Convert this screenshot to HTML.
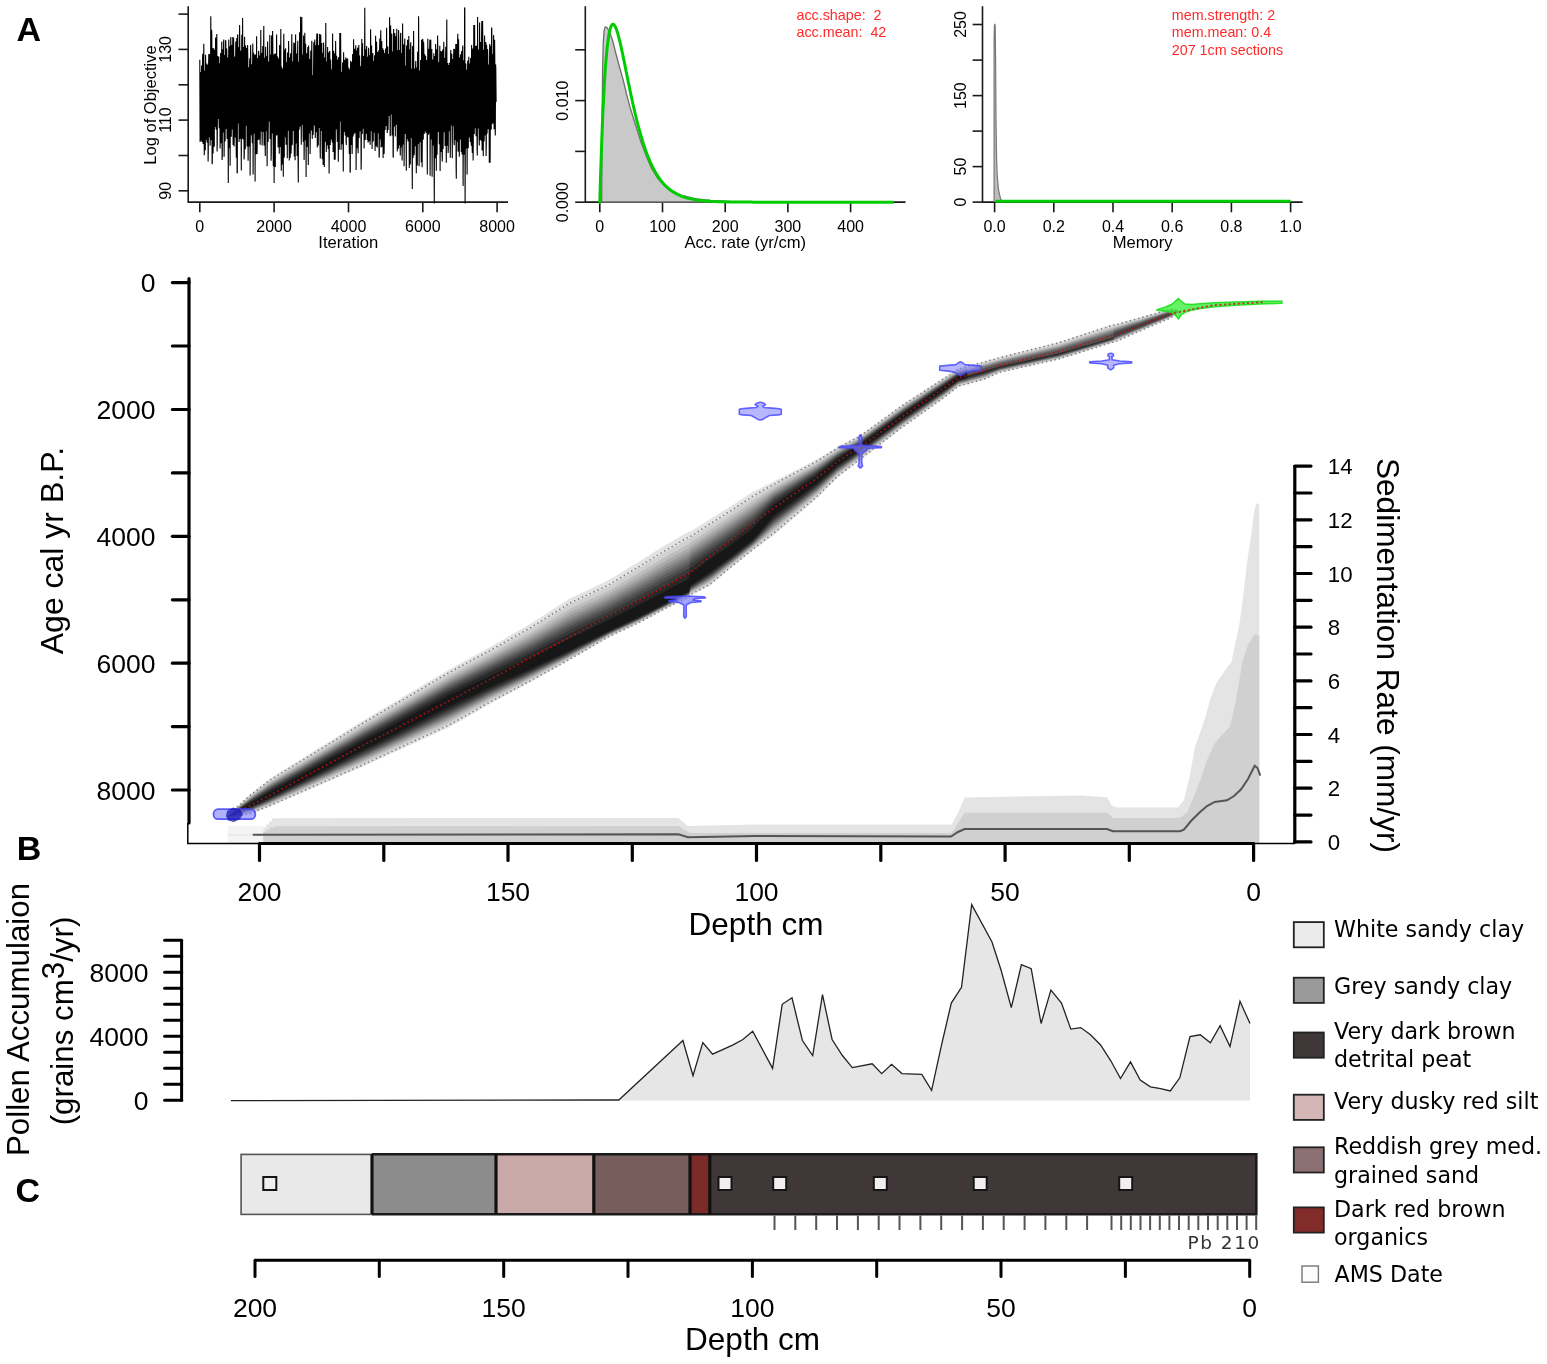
<!DOCTYPE html>
<html><head><meta charset="utf-8"><title>Bacon age-depth model</title>
<style>html,body{margin:0;padding:0;background:#fff;}svg{display:block;}</style></head>
<body><svg width="1547" height="1364" viewBox="0 0 1547 1364">
<rect width="1547" height="1364" fill="#fff"/>
<text x="16.6" y="40.9" font-size="34" font-weight="bold" font-family="'Liberation Sans', Arial, Helvetica, sans-serif">A</text>
<text x="16.8" y="860" font-size="34" font-weight="bold" font-family="'Liberation Sans', Arial, Helvetica, sans-serif">B</text>
<text x="15.4" y="1201.5" font-size="34" font-weight="bold" font-family="'Liberation Sans', Arial, Helvetica, sans-serif">C</text>
<path d="M188.2 6.2 V202.1 H508" fill="none" stroke="#1a1a1a" stroke-width="1.6"/>
<line x1="178.5" y1="190.8" x2="188.2" y2="190.8" stroke="#1a1a1a" stroke-width="1.6"/>
<line x1="178.5" y1="155.5" x2="188.2" y2="155.5" stroke="#1a1a1a" stroke-width="1.6"/>
<line x1="178.5" y1="120.1" x2="188.2" y2="120.1" stroke="#1a1a1a" stroke-width="1.6"/>
<line x1="178.5" y1="84.8" x2="188.2" y2="84.8" stroke="#1a1a1a" stroke-width="1.6"/>
<line x1="178.5" y1="49.4" x2="188.2" y2="49.4" stroke="#1a1a1a" stroke-width="1.6"/>
<line x1="178.5" y1="14.1" x2="188.2" y2="14.1" stroke="#1a1a1a" stroke-width="1.6"/>
<text x="171.5" y="190.8" font-size="16" text-anchor="middle" transform="rotate(-90 171.5 190.8)" font-family="'Liberation Sans', Arial, Helvetica, sans-serif">90</text>
<text x="171.5" y="120.1" font-size="16" text-anchor="middle" transform="rotate(-90 171.5 120.1)" font-family="'Liberation Sans', Arial, Helvetica, sans-serif">110</text>
<text x="171.5" y="49.4" font-size="16" text-anchor="middle" transform="rotate(-90 171.5 49.4)" font-family="'Liberation Sans', Arial, Helvetica, sans-serif">130</text>
<line x1="199.8" y1="202.1" x2="199.8" y2="212.3" stroke="#1a1a1a" stroke-width="1.6"/>
<text x="199.8" y="232.3" font-size="16" text-anchor="middle" font-family="'Liberation Sans', Arial, Helvetica, sans-serif">0</text>
<line x1="274.1" y1="202.1" x2="274.1" y2="212.3" stroke="#1a1a1a" stroke-width="1.6"/>
<text x="274.1" y="232.3" font-size="16" text-anchor="middle" font-family="'Liberation Sans', Arial, Helvetica, sans-serif">2000</text>
<line x1="348.5" y1="202.1" x2="348.5" y2="212.3" stroke="#1a1a1a" stroke-width="1.6"/>
<text x="348.5" y="232.3" font-size="16" text-anchor="middle" font-family="'Liberation Sans', Arial, Helvetica, sans-serif">4000</text>
<line x1="422.8" y1="202.1" x2="422.8" y2="212.3" stroke="#1a1a1a" stroke-width="1.6"/>
<text x="422.8" y="232.3" font-size="16" text-anchor="middle" font-family="'Liberation Sans', Arial, Helvetica, sans-serif">6000</text>
<line x1="497.1" y1="202.1" x2="497.1" y2="212.3" stroke="#1a1a1a" stroke-width="1.6"/>
<text x="497.1" y="232.3" font-size="16" text-anchor="middle" font-family="'Liberation Sans', Arial, Helvetica, sans-serif">8000</text>
<text x="348.3" y="247.5" font-size="16.6" text-anchor="middle" font-family="'Liberation Sans', Arial, Helvetica, sans-serif">Iteration</text>
<text x="156" y="105" font-size="16.5" text-anchor="middle" transform="rotate(-90 156 105)" font-family="'Liberation Sans', Arial, Helvetica, sans-serif">Log of Objective</text>
<path d="M199.8 59.8 200.1 142.1 L200.3 133.7 200.6 75.6 L200.8 72 201.1 133.4 L201.3 140.7 201.6 65.4 L201.8 74.5 202.1 142.1 L202.3 137.7 202.6 58 L202.8 53.9 203.1 143.9 L203.3 131.3 203.6 63.3 L203.8 43.7 204.1 136.1 L204.3 155.3 204.6 74.8 L204.8 70.6 205.1 128.8 L205.3 150.3 205.6 54.7 L205.8 82.7 206.1 139.8 L206.3 135.9 206.6 81.7 L206.8 63.5 207.1 142.6 L207.3 140 207.6 80.3 L207.8 64.8 208.1 161.6 L208.3 149.6 208.6 63.9 L208.8 54.1 209.1 137.2 L209.3 129.1 209.6 54.1 L209.8 69.4 210.1 145.8 L210.3 135 210.6 58.4 L210.8 16.2 211.1 139.9 L211.3 122.1 211.6 29.8 L211.8 34.7 212.1 164.3 L212.3 162.6 212.6 61.5 L212.8 48.2 213.1 153.4 L213.3 126 213.6 65.9 L213.8 48.2 214.1 117.7 L214.3 146.7 214.6 50 L214.8 51.3 215.1 103.9 L215.3 127.1 215.6 37.4 L215.8 55.7 216.1 129.2 L216.3 129.2 216.6 48.3 L216.8 34 217.1 151.6 L217.3 140.6 217.6 56.1 L217.8 60.3 218.1 118.9 L218.3 113.1 218.6 61.1 L218.8 56.4 219.1 123.3 L219.3 128.3 219.6 63.2 L219.8 64.4 220.1 148.5 L220.3 131 220.6 53.9 L220.8 53 221.1 124.2 L221.3 143.2 221.6 56.6 L221.8 41.6 222.1 160 L222.3 156.1 222.6 49.2 L222.8 56.2 223.1 132.4 L223.3 114.6 223.6 43.1 L223.8 39.5 224.1 156.7 L224.3 131.9 224.6 60.3 L224.8 54.9 225.1 141.5 L225.3 114.6 225.6 40.5 L225.8 40.5 226.1 120.3 L226.3 129.1 226.6 48.4 L226.8 51.9 227.1 139.1 L227.3 130.2 227.6 71 L227.8 57.6 228.1 140.8 L228.3 183 228.6 62.9 L228.8 39.6 229.1 144.8 L229.3 148.1 229.6 46.2 L229.8 67.1 230.1 165.8 L230.3 121.2 230.6 46.7 L230.8 37.1 231.1 89.7 L231.3 136.8 231.6 59.5 L231.8 45 232.1 107.3 L232.3 129.6 232.6 54.5 L232.8 36.9 233.1 144.9 L233.3 125 233.6 37.8 L233.8 69.5 234.1 146.4 L234.3 125.5 234.6 57.5 L234.8 56.7 235.1 120.8 L235.3 137.5 235.6 58.2 L235.8 41.5 236.1 137.5 L236.3 157.8 236.6 70.4 L236.8 38 237.1 173 L237.3 173 237.6 34.7 L237.8 34.7 238.1 121.2 L238.3 123.5 238.6 72.7 L238.8 46.9 239.1 142 L239.3 127.8 239.6 24.9 L239.8 44.9 240.1 138.9 L240.3 113.5 240.6 50.7 L240.8 68.9 241.1 117.6 L241.3 170.4 241.6 56.7 L241.8 34.7 242.1 123.9 L242.3 138.5 242.6 17.9 L242.8 54.4 243.1 139.5 L243.3 110.9 243.6 47 L243.8 71.8 244.1 159.4 L244.3 154.2 244.6 36.8 L244.8 62.5 245.1 130.4 L245.3 149.2 245.6 45.6 L245.8 62.4 246.1 124.8 L246.3 125.5 246.6 48 L246.8 72 247.1 146.4 L247.3 130.2 247.6 45 L247.8 56.5 248.1 160.8 L248.3 139 248.6 67.3 L248.8 74.7 249.1 146.3 L249.3 145.2 249.6 64.8 L249.8 58.3 250.1 175.6 L250.3 136.4 250.6 45.1 L250.8 57.1 251.1 134.9 L251.3 134.5 251.6 64.3 L251.8 70.6 252.1 131.9 L252.3 143.2 252.6 61.9 L252.8 43.6 253.1 174.6 L253.3 117.8 253.6 52.7 L253.8 63.8 254.1 123.4 L254.3 133.8 254.6 54.8 L254.8 56.2 255.1 181.5 L255.3 106 255.6 54.7 L255.8 54.7 256.1 113.4 L256.3 154.3 256.6 36.3 L256.8 86.2 257.1 154 L257.3 122.7 257.6 58 L257.8 76.4 258.1 140 L258.3 137 258.6 50.7 L258.8 52.9 259.1 139.4 L259.3 127.6 259.6 55.5 L259.8 57.7 260.1 144.7 L260.3 133.6 260.6 67.6 L260.8 30 261.1 129.3 L261.3 131.4 261.6 52.9 L261.8 61.6 262.1 145.4 L262.3 134.6 262.6 54.4 L262.8 45.9 263.1 131.9 L263.3 116.2 263.6 45.9 L263.8 25.9 264.1 145.4 L264.3 131.3 264.6 65.4 L264.8 57.8 265.1 143.6 L265.3 155.9 265.6 46.8 L265.8 56.7 266.1 131.3 L266.3 116.9 266.6 56.2 L266.8 61.7 267.1 166.3 L267.3 127.3 267.6 41.5 L267.8 60.7 268.1 141.9 L268.3 126.2 268.6 67.6 L268.8 61.4 269.1 117 L269.3 121.4 269.6 67.7 L269.8 35 270.1 139.1 L270.3 134.1 270.6 61.1 L270.8 54.4 271.1 160.8 L271.3 151.5 271.6 35.4 L271.8 47.4 272.1 116.7 L272.3 133.6 272.6 31 L272.8 44.6 273.1 133.8 L273.3 166.2 273.6 55 L273.8 55 274.1 183 L274.3 132.1 274.6 53.8 L274.8 66.5 275.1 110.6 L275.3 166.9 275.6 53.6 L275.8 64.7 276.1 120.8 L276.3 135.6 276.6 34.6 L276.8 68.4 277.1 134.7 L277.3 134.7 277.6 56.4 L277.8 62.2 278.1 147.4 L278.3 116.6 278.6 58.6 L278.8 63.4 279.1 108.9 L279.3 153.8 279.6 45.1 L279.8 45.6 280.1 117.3 L280.3 147 280.6 73 L280.8 29 281.1 144.1 L281.3 170.8 281.6 66.8 L281.8 68.6 282.1 127.1 L282.3 164.6 282.6 74.9 L282.8 68.7 283.1 138.9 L283.3 176.7 283.6 59.7 L283.8 33.8 284.1 115.6 L284.3 157.4 284.6 69.1 L284.8 49.8 285.1 137.2 L285.3 132.6 285.6 48.3 L285.8 59.2 286.1 144.8 L286.3 142 286.6 67.9 L286.8 62.2 287.1 133.6 L287.3 158.3 287.6 52.6 L287.8 60.3 288.1 130.7 L288.3 124.5 288.6 41.1 L288.8 66.2 289.1 136.1 L289.3 160.6 289.6 57.6 L289.8 66 290.1 158.1 L290.3 153.6 290.6 53.2 L290.8 57.8 291.1 153.6 L291.3 137.1 291.6 54.8 L291.8 34.2 292.1 145.3 L292.3 143.1 292.6 61.6 L292.8 62.5 293.1 129.4 L293.3 131 293.6 55.9 L293.8 42.6 294.1 122.7 L294.3 156.6 294.6 43.3 L294.8 67.7 295.1 160.3 L295.3 147 295.6 34.6 L295.8 69.6 296.1 142.4 L296.3 143.3 296.6 53.4 L296.8 72.6 297.1 156 L297.3 117.3 297.6 52 L297.8 40.8 298.1 163.8 L298.3 182.5 298.6 62.3 L298.8 62.3 299.1 129.8 L299.3 125.4 299.6 32.3 L299.8 39.9 300.1 112.5 L300.3 126.4 300.6 16.7 L300.8 68.2 301.1 124.9 L301.3 144.7 301.6 57.5 L301.8 16.9 302.1 124.2 L302.3 124.2 302.6 54.4 L302.8 65.2 303.1 135.4 L303.3 142.1 303.6 35.6 L303.8 68.2 304.1 160 L304.3 143.9 304.6 68.4 L304.8 32.8 305.1 128.5 L305.3 140.2 305.6 43.6 L305.8 59.4 306.1 176.9 L306.3 120.6 306.6 71 L306.8 53.3 307.1 121.3 L307.3 147 307.6 57.8 L307.8 46.9 308.1 136.6 L308.3 165 308.6 45.6 L308.8 54.7 309.1 133.4 L309.3 128.9 309.6 66.5 L309.8 58.9 310.1 154 L310.3 133 310.6 65.6 L310.8 50.5 311.1 130 L311.3 130 311.6 64.1 L311.8 40.7 312.1 123 L312.3 138.7 312.6 83.7 L312.8 75.1 313.1 134.9 L313.3 129.1 313.6 66.8 L313.8 42.3 314.1 125.4 L314.3 123.7 314.6 53.8 L314.8 39.4 315.1 117.2 L315.3 138.1 315.6 45.7 L315.8 45.7 316.1 132.3 L316.3 125.9 316.6 44.6 L316.8 33.6 317.1 112.8 L317.3 147.5 317.6 33.6 L317.8 72.7 318.1 119.3 L318.3 145.4 318.6 61.2 L318.8 44.9 319.1 122.9 L319.3 128 319.6 34 L319.8 63.8 320.1 148.7 L320.3 158.4 320.6 34.6 L320.8 36.8 321.1 107.9 L321.3 130.9 321.6 44.2 L321.8 42.9 322.1 141.2 L322.3 159.2 322.6 52.8 L322.8 57.1 323.1 165 L323.3 135.4 323.6 42.5 L323.8 52.3 324.1 122.2 L324.3 167.1 324.6 57.6 L324.8 71.9 325.1 141.8 L325.3 138 325.6 64.9 L325.8 22.9 326.1 115.6 L326.3 152 326.6 61.5 L326.8 62.5 327.1 145.4 L327.3 126.8 327.6 46.9 L327.8 84.5 328.1 134 L328.3 148.9 328.6 52.5 L328.8 68.5 329.1 173.4 L329.3 146.5 329.6 51.2 L329.8 51.2 330.1 128.2 L330.3 144.9 330.6 59.5 L330.8 67.1 331.1 139.6 L331.3 131.6 331.6 69.6 L331.8 72.2 332.1 139.7 L332.3 142.4 332.6 33.4 L332.8 63.4 333.1 152.1 L333.3 123.7 333.6 50.8 L333.8 52 334.1 111.7 L334.3 159.8 334.6 53.6 L334.8 70 335.1 159.8 L335.3 148.2 335.6 40.9 L335.8 55.3 336.1 128.7 L336.3 128.7 336.6 55.7 L336.8 60.7 337.1 128 L337.3 141.9 337.6 59.4 L337.8 68.7 338.1 126.6 L338.3 161.8 338.6 57.6 L338.8 57.6 339.1 124.9 L339.3 149.8 339.6 70.6 L339.8 32.9 340.1 121.5 L340.3 112.5 340.6 32.9 L340.8 58.5 341.1 149.8 L341.3 133.8 341.6 85.4 L341.8 71.7 342.1 142.9 L342.3 144.2 342.6 62.6 L342.8 70.4 343.1 146.7 L343.3 171.5 343.6 52.2 L343.8 67 344.1 131.5 L344.3 131.5 344.6 60.4 L344.8 60.2 345.1 121.6 L345.3 135.5 345.6 65.2 L345.8 57.6 346.1 140.9 L346.3 145 346.6 65.6 L346.8 58.6 347.1 126.7 L347.3 137.1 347.6 58.6 L347.8 66.8 348.1 131.9 L348.3 137.4 348.6 75.9 L348.8 67.8 349.1 132.3 L349.3 154 349.6 74.8 L349.8 69.6 350.1 172.5 L350.3 172.2 350.6 60.8 L350.8 78.5 351.1 136.9 L351.3 145.1 351.6 62.4 L351.8 62.4 352.1 153.9 L352.3 143.7 352.6 54.1 L352.8 78.8 353.1 136.5 L353.3 122.3 353.6 39.2 L353.8 75.8 354.1 134.2 L354.3 124.2 354.6 48.7 L354.8 70.5 355.1 115.4 L355.3 133.1 355.6 52.7 L355.8 45.2 356.1 169.9 L356.3 133 356.6 51.6 L356.8 50.5 357.1 148.3 L357.3 140.4 357.6 48 L357.8 48 358.1 153.3 L358.3 135 358.6 60.4 L358.8 44.9 359.1 138 L359.3 124.1 359.6 55.6 L359.8 66.2 360.1 131.3 L360.3 119.1 360.6 66.2 L360.8 78.7 361.1 169.8 L361.3 159.6 361.6 63.1 L361.8 39.1 362.1 131.4 L362.3 134 362.6 43.3 L362.8 72.2 363.1 128.6 L363.3 124.9 363.6 55.9 L363.8 59.8 364.1 148.4 L364.3 127.1 364.6 53.1 L364.8 7.7 365.1 116.4 L365.3 140.1 365.6 62 L365.8 49.2 366.1 133.7 L366.3 125.7 366.6 46 L366.8 55.9 367.1 130.2 L367.3 139.9 367.6 69.8 L367.8 56.7 368.1 142.8 L368.3 104.6 368.6 47.7 L368.8 52.6 369.1 141.2 L369.3 135.4 369.6 55.3 L369.8 71.6 370.1 144.8 L370.3 137.9 370.6 29.2 L370.8 47.4 371.1 125.7 L371.3 131.3 371.6 45.4 L371.8 72.4 372.1 149 L372.3 119.4 372.6 74.7 L372.8 53.1 373.1 112 L373.3 141.6 373.6 60.9 L373.8 62.9 374.1 132.8 L374.3 124.7 374.6 55.3 L374.8 58.1 375.1 151 L375.3 123.6 375.6 35.7 L375.8 51.7 376.1 146.2 L376.3 128.5 376.6 41.8 L376.8 62.4 377.1 146.6 L377.3 147.4 377.6 62.8 L377.8 52 378.1 125.3 L378.3 133.2 378.6 53.8 L378.8 50.4 379.1 157.2 L379.3 157.2 379.6 48.4 L379.8 38.6 380.1 139.4 L380.3 131.2 380.6 39.6 L380.8 30.2 381.1 147.6 L381.3 125 381.6 41.6 L381.8 41.6 382.1 146.7 L382.3 144.8 382.6 60.2 L382.8 48.2 383.1 158 L383.3 124.8 383.6 49.9 L383.8 61.9 384.1 153.9 L384.3 140.2 384.6 59.7 L384.8 52.9 385.1 129.9 L385.3 119.2 385.6 48.4 L385.8 58 386.1 126 L386.3 122.3 386.6 27.7 L386.8 60.3 387.1 129.4 L387.3 132.9 387.6 60.3 L387.8 46.5 388.1 129.9 L388.3 108.8 388.6 62.3 L388.8 54 389.1 111.9 L389.3 116 389.6 17.2 L389.8 51.2 390.1 134.3 L390.3 136.2 390.6 25.5 L390.8 37.3 391.1 107.7 L391.3 114.6 391.6 34 L391.8 34 392.1 135.6 L392.3 127.8 392.6 59.9 L392.8 51.6 393.1 157.2 L393.3 157.2 393.6 28.9 L393.8 43.6 394.1 121 L394.3 126.5 394.6 46.6 L394.8 32.9 395.1 100.8 L395.3 136.4 395.6 36.2 L395.8 56.1 396.1 124.7 L396.3 122.1 396.6 44.1 L396.8 28.8 397.1 102 L397.3 151.5 397.6 50.1 L397.8 65 398.1 142.4 L398.3 148.7 398.6 29.9 L398.8 41.3 399.1 133.2 L399.3 145.3 399.6 50.1 L399.8 54 400.1 145.3 L400.3 155.4 400.6 33.3 L400.8 33.3 401.1 147.5 L401.3 120.5 401.6 53.1 L401.8 59.1 402.1 160.4 L402.3 144.6 402.6 23.4 L402.8 66.3 403.1 144.4 L403.3 141.9 403.6 55.8 L403.8 44.5 404.1 166.3 L404.3 119.7 404.6 49.6 L404.8 38.4 405.1 133.9 L405.3 131.8 405.6 65.4 L405.8 66.7 406.1 124.5 L406.3 170.7 406.6 45.8 L406.8 45.8 407.1 124.8 L407.3 138.9 407.6 39.7 L407.8 59.3 408.1 141.4 L408.3 129 408.6 58.8 L408.8 35.9 409.1 124.5 L409.3 167.9 409.6 64.8 L409.8 49.3 410.1 124.3 L410.3 164.4 410.6 45.2 L410.8 42.3 411.1 138 L411.3 123.7 411.6 68.7 L411.8 77 412.1 154.2 L412.3 189 412.6 46 L412.8 48.4 413.1 157.9 L413.3 120.3 413.6 31 L413.8 68.6 414.1 155.3 L414.3 152.3 414.6 68.5 L414.8 76.5 415.1 146.3 L415.3 120.7 415.6 66 L415.8 61.1 416.1 138.3 L416.3 173.3 416.6 67.4 L416.8 68.8 417.1 121.2 L417.3 165.4 417.6 52.5 L417.8 51.6 418.1 144 L418.3 135.5 418.6 16.2 L418.8 64.6 419.1 166.2 L419.3 103.3 419.6 72 L419.8 70.6 420.1 142.3 L420.3 130.5 420.6 59.9 L420.8 61.7 421.1 145.8 L421.3 162.6 421.6 39.8 L421.8 51.4 422.1 167.3 L422.3 140.4 422.6 39.3 L422.8 39.3 423.1 137 L423.3 139.6 423.6 41.7 L423.8 48.2 424.1 124.8 L424.3 133.9 424.6 67 L424.8 54.3 425.1 122.7 L425.3 131.4 425.6 56.1 L425.8 62 426.1 133 L426.3 123.1 426.6 60.1 L426.8 70.6 427.1 124.7 L427.3 174.6 427.6 71.4 L427.8 38.8 428.1 132.4 L428.3 135 428.6 48.8 L428.8 61.1 429.1 133.5 L429.3 114.3 429.6 53.9 L429.8 39.7 430.1 175.7 L430.3 133.5 430.6 39.7 L430.8 40.4 431.1 120.6 L431.3 139.5 431.6 81.3 L431.8 48.9 432.1 176.8 L432.3 133.8 432.6 69.9 L432.8 59.6 433.1 145.5 L433.3 134.1 433.6 71.1 L433.8 53.2 434.1 170.8 L434.3 203.5 434.6 56 L434.8 65.3 435.1 152.4 L435.3 158.3 435.6 44.1 L435.8 55.2 436.1 115.7 L436.3 170.7 436.6 53.7 L436.8 49.4 437.1 154.7 L437.3 134.8 437.6 35.4 L437.8 47.8 438.1 128.7 L438.3 131.9 438.6 62.7 L438.8 62.7 439.1 124.8 L439.3 144.2 439.6 65.9 L439.8 45.8 440.1 170.9 L440.3 128.3 440.6 51.1 L440.8 56.6 441.1 138 L441.3 151.9 441.6 54.3 L441.8 51.2 442.1 155.8 L442.3 161.5 442.6 71.3 L442.8 49.5 443.1 149 L443.3 121.9 443.6 56.9 L443.8 41.7 444.1 106.4 L444.3 132.2 444.6 58 L444.8 62.1 445.1 146 L445.3 117.2 445.6 56.4 L445.8 46.7 446.1 136.5 L446.3 162.8 446.6 51.5 L446.8 19.4 447.1 145.7 L447.3 144.3 447.6 73.5 L447.8 63 448.1 153 L448.3 147.8 448.6 64.9 L448.8 66.9 449.1 125.7 L449.3 131.2 449.6 62.7 L449.8 69.3 450.1 143.4 L450.3 157.7 450.6 56 L450.8 49.9 451.1 125.6 L451.3 120.7 451.6 54.1 L451.8 54.1 452.1 135.9 L452.3 158.3 452.6 69 L452.8 59 453.1 126.3 L453.3 119 453.6 57.2 L453.8 48.7 454.1 142.2 L454.3 145.2 454.6 49 L454.8 56.7 455.1 140 L455.3 115.3 455.6 62.9 L455.8 44.1 456.1 165.7 L456.3 178.8 456.6 44.1 L456.8 60.8 457.1 141.8 L457.3 137.5 457.6 44.1 L457.8 33.7 458.1 151.6 L458.3 148.3 458.6 39.3 L458.8 63.1 459.1 114.5 L459.3 156.8 459.6 66.9 L459.8 57.4 460.1 116.2 L460.3 139.6 460.6 54.3 L460.8 60 461.1 129.4 L461.3 151.9 461.6 51 L461.8 66.7 462.1 154.4 L462.3 134.7 462.6 50.4 L462.8 45.6 463.1 186.1 L463.3 138.7 463.6 71.9 L463.8 60.2 464.1 154.8 L464.3 130.3 464.6 7.7 L464.8 7.7 465.1 203.5 L465.3 152.5 465.6 74.8 L465.8 63.5 466.1 148.6 L466.3 134.7 466.6 69.8 L466.8 72.4 467.1 174.5 L467.3 130.2 467.6 65.5 L467.8 60.6 468.1 124 L468.3 148.3 468.6 69.5 L468.8 56.7 469.1 137.5 L469.3 122 469.6 63.6 L469.8 72 470.1 131.6 L470.3 142 470.6 58 L470.8 67.3 471.1 138.6 L471.3 145.7 471.6 45 L471.8 60.5 472.1 144.8 L472.3 153.1 472.6 60.5 L472.8 48.4 473.1 160.4 L473.3 140.6 473.6 67.1 L473.8 24.9 474.1 132.4 L474.3 134.1 474.6 24.9 L474.8 64.5 475.1 124.6 L475.3 128.2 475.6 50.7 L475.8 46.1 476.1 136.3 L476.3 117.4 476.6 45.4 L476.8 53.8 477.1 149.1 L477.3 155.6 477.6 17 L477.8 63 478.1 128.5 L478.3 110.1 478.6 57.4 L478.8 49.6 479.1 136.7 L479.3 145.4 479.6 22.5 L479.8 55.5 480.1 139.4 L480.3 139.4 480.6 66.3 L480.8 42 481.1 120.5 L481.3 141 481.6 36.6 L481.8 21 482.1 150.4 L482.3 109.7 482.6 21 L482.8 41.1 483.1 140.1 L483.3 156.2 483.6 68.9 L483.8 49.7 484.1 141.5 L484.3 130.2 484.6 35.5 L484.8 56.6 485.1 134.9 L485.3 134.9 485.6 68.3 L485.8 42 486.1 156 L486.3 143.4 486.6 44.8 L486.8 57.9 487.1 133.7 L487.3 119.5 487.6 49 L487.8 58.5 488.1 129.2 L488.3 125.7 488.6 68.6 L488.8 64.5 489.1 118.3 L489.3 162.7 489.6 46.9 L489.8 43.9 490.1 162.7 L490.3 122.4 490.6 46.1 L490.8 50.1 491.1 129.7 L491.3 127.7 491.6 27.9 L491.8 27.9 492.1 124.2 L492.3 118.1 492.6 57.6 L492.8 53.9 493.1 123.3 L493.3 112.6 493.6 35 L493.8 52.1 494.1 129.3 L494.3 120.1 494.6 39.7 L494.8 59.1 495.1 128.3 L495.3 135.4 495.6 64.4 L495.8 68.2 496.1 101.9" fill="none" stroke="#000" stroke-width="1.1" stroke-linejoin="bevel"/>
<path d="M585.3 6.2 V202.1 H905.5" fill="none" stroke="#1a1a1a" stroke-width="1.6"/>
<line x1="575.2" y1="202.2" x2="585.3" y2="202.2" stroke="#1a1a1a" stroke-width="1.6"/>
<line x1="575.2" y1="151.4" x2="585.3" y2="151.4" stroke="#1a1a1a" stroke-width="1.6"/>
<line x1="575.2" y1="100.6" x2="585.3" y2="100.6" stroke="#1a1a1a" stroke-width="1.6"/>
<line x1="575.2" y1="49.8" x2="585.3" y2="49.8" stroke="#1a1a1a" stroke-width="1.6"/>
<text x="568.5" y="202.2" font-size="16" text-anchor="middle" transform="rotate(-90 568.5 202.2)" font-family="'Liberation Sans', Arial, Helvetica, sans-serif">0.000</text>
<text x="568.5" y="100.6" font-size="16" text-anchor="middle" transform="rotate(-90 568.5 100.6)" font-family="'Liberation Sans', Arial, Helvetica, sans-serif">0.010</text>
<line x1="599.8" y1="202.1" x2="599.8" y2="212.3" stroke="#1a1a1a" stroke-width="1.6"/>
<text x="599.8" y="232.3" font-size="16" text-anchor="middle" font-family="'Liberation Sans', Arial, Helvetica, sans-serif">0</text>
<line x1="662.5" y1="202.1" x2="662.5" y2="212.3" stroke="#1a1a1a" stroke-width="1.6"/>
<text x="662.5" y="232.3" font-size="16" text-anchor="middle" font-family="'Liberation Sans', Arial, Helvetica, sans-serif">100</text>
<line x1="725.2" y1="202.1" x2="725.2" y2="212.3" stroke="#1a1a1a" stroke-width="1.6"/>
<text x="725.2" y="232.3" font-size="16" text-anchor="middle" font-family="'Liberation Sans', Arial, Helvetica, sans-serif">200</text>
<line x1="787.9" y1="202.1" x2="787.9" y2="212.3" stroke="#1a1a1a" stroke-width="1.6"/>
<text x="787.9" y="232.3" font-size="16" text-anchor="middle" font-family="'Liberation Sans', Arial, Helvetica, sans-serif">300</text>
<line x1="850.6" y1="202.1" x2="850.6" y2="212.3" stroke="#1a1a1a" stroke-width="1.6"/>
<text x="850.6" y="232.3" font-size="16" text-anchor="middle" font-family="'Liberation Sans', Arial, Helvetica, sans-serif">400</text>
<text x="745.3" y="247.5" font-size="16.6" text-anchor="middle" font-family="'Liberation Sans', Arial, Helvetica, sans-serif">Acc. rate (yr/cm)</text>
<polygon points="601.7,202 601.9,150 602.2,110 602.6,70 603.2,45 604,31 605.2,26.8 607,27.5 610,33 613,42 616,54 619.5,67 623.2,80 626.5,94 629.8,106.4 633.5,118.5 637,129.5 640.8,141.6 645.5,154 651.3,168 657.5,178 664.5,185.6 672,191 682,195.5 695,198.7 710,200.5 730,201.4 760,201.8 800,202" fill="#c9c9c9" stroke="#6f6f6f" stroke-width="1.3"/>
<polyline points="598.9,202 599.8,202.2 600.4,180.2 601.1,160.3 601.7,142.3 602.3,126 602.9,111.4 603.6,98.3 604.2,86.6 604.8,76.3 605.4,67.1 606.1,59.1 606.7,52.1 607.3,46.1 608,40.9 608.6,36.6 609.2,33 609.8,30.1 610.5,27.9 611.1,26.2 611.7,25.1 612.3,24.4 613,24.2 613.6,24.4 614.2,25 614.8,25.9 615.5,27.1 616.1,28.5 616.7,30.2 617.4,32.2 618,34.3 618.6,36.6 619.2,39 619.9,41.6 620.5,44.3 621.1,47 621.7,49.9 622.4,52.8 623,55.8 623.6,58.9 624.3,61.9 624.9,65 625.5,68.1 626.1,71.2 626.8,74.4 627.4,77.5 628,80.6 628.6,83.7 629.3,86.7 629.9,89.7 630.5,92.7 631.1,95.7 631.8,98.6 632.4,101.5 633,104.3 633.7,107.1 634.3,109.9 634.9,112.6 635.5,115.2 636.2,117.8 636.8,120.3 637.4,122.8 638,125.2 640.6,134.4 643.1,142.7 645.6,150.2 648.1,156.9 650.6,162.8 653.1,168 655.6,172.6 658.1,176.6 660.6,180.2 663.1,183.2 665.6,185.9 668.1,188.2 670.7,190.2 673.2,191.9 675.7,193.4 678.2,194.7 680.7,195.8 683.2,196.8 685.7,197.6 688.2,198.3 690.7,198.8 693.2,199.4 695.7,199.8 698.2,200.2 700.7,200.5 703.3,200.7 705.8,201 708.3,201.1 710.8,201.3 713.3,201.4 715.8,201.6 718.3,201.7 720.8,201.7 723.3,201.8 725.8,201.9 728.3,201.9 730.8,202 733.4,202 735.9,202 738.4,202.1 740.9,202.1 743.4,202.1 745.9,202.1 748.4,202.1 750.9,202.1 753.4,202.2 755.9,202.2 758.4,202.2 760.9,202.2 763.4,202.2 766,202.2 768.5,202.2 771,202.2 773.5,202.2 776,202.2 778.5,202.2 781,202.2 783.5,202.2 786,202.2 788.5,202.2 791,202.2 793.5,202.2 796.1,202.2 798.6,202.2 801.1,202.2 803.6,202.2 806.1,202.2 808.6,202.2 811.1,202.2 813.6,202.2 816.1,202.2 818.6,202.2 821.1,202.2 823.6,202.2 826.1,202.2 828.7,202.2 831.2,202.2 833.7,202.2 836.2,202.2 838.7,202.2 841.2,202.2 843.7,202.2 846.2,202.2 848.7,202.2 851.2,202.2 853.7,202.2 856.2,202.2 858.8,202.2 861.3,202.2 863.8,202.2 866.3,202.2 868.8,202.2 871.3,202.2 873.8,202.2 876.3,202.2 878.8,202.2 881.3,202.2 883.8,202.2 886.3,202.2 888.8,202.2 891.4,202.2 893.9,202.2" fill="none" stroke="#00cc00" stroke-width="3" stroke-linejoin="round"/>
<text x="796.5" y="19.5" font-size="14.3" fill="#ff2a2a" font-family="'Liberation Sans', Arial, Helvetica, sans-serif">acc.shape:&#160;&#160;2</text>
<text x="796.5" y="37.3" font-size="14.3" fill="#ff2a2a" font-family="'Liberation Sans', Arial, Helvetica, sans-serif">acc.mean:&#160;&#160;42</text>
<path d="M982.5 6.2 V202.1 H1302.6" fill="none" stroke="#1a1a1a" stroke-width="1.6"/>
<line x1="972.6" y1="202.1" x2="982.5" y2="202.1" stroke="#1a1a1a" stroke-width="1.6"/>
<line x1="972.6" y1="166.6" x2="982.5" y2="166.6" stroke="#1a1a1a" stroke-width="1.6"/>
<line x1="972.6" y1="131.1" x2="982.5" y2="131.1" stroke="#1a1a1a" stroke-width="1.6"/>
<line x1="972.6" y1="95.6" x2="982.5" y2="95.6" stroke="#1a1a1a" stroke-width="1.6"/>
<line x1="972.6" y1="60.1" x2="982.5" y2="60.1" stroke="#1a1a1a" stroke-width="1.6"/>
<line x1="972.6" y1="24.5" x2="982.5" y2="24.5" stroke="#1a1a1a" stroke-width="1.6"/>
<text x="966" y="202.1" font-size="16" text-anchor="middle" transform="rotate(-90 966 202.1)" font-family="'Liberation Sans', Arial, Helvetica, sans-serif">0</text>
<text x="966" y="166.6" font-size="16" text-anchor="middle" transform="rotate(-90 966 166.6)" font-family="'Liberation Sans', Arial, Helvetica, sans-serif">50</text>
<text x="966" y="95.6" font-size="16" text-anchor="middle" transform="rotate(-90 966 95.6)" font-family="'Liberation Sans', Arial, Helvetica, sans-serif">150</text>
<text x="966" y="24.5" font-size="16" text-anchor="middle" transform="rotate(-90 966 24.5)" font-family="'Liberation Sans', Arial, Helvetica, sans-serif">250</text>
<line x1="994.6" y1="202.1" x2="994.6" y2="212.3" stroke="#1a1a1a" stroke-width="1.6"/>
<text x="994.6" y="232.3" font-size="16" text-anchor="middle" font-family="'Liberation Sans', Arial, Helvetica, sans-serif">0.0</text>
<line x1="1053.8" y1="202.1" x2="1053.8" y2="212.3" stroke="#1a1a1a" stroke-width="1.6"/>
<text x="1053.8" y="232.3" font-size="16" text-anchor="middle" font-family="'Liberation Sans', Arial, Helvetica, sans-serif">0.2</text>
<line x1="1113" y1="202.1" x2="1113" y2="212.3" stroke="#1a1a1a" stroke-width="1.6"/>
<text x="1113" y="232.3" font-size="16" text-anchor="middle" font-family="'Liberation Sans', Arial, Helvetica, sans-serif">0.4</text>
<line x1="1172.2" y1="202.1" x2="1172.2" y2="212.3" stroke="#1a1a1a" stroke-width="1.6"/>
<text x="1172.2" y="232.3" font-size="16" text-anchor="middle" font-family="'Liberation Sans', Arial, Helvetica, sans-serif">0.6</text>
<line x1="1231.4" y1="202.1" x2="1231.4" y2="212.3" stroke="#1a1a1a" stroke-width="1.6"/>
<text x="1231.4" y="232.3" font-size="16" text-anchor="middle" font-family="'Liberation Sans', Arial, Helvetica, sans-serif">0.8</text>
<line x1="1290.6" y1="202.1" x2="1290.6" y2="212.3" stroke="#1a1a1a" stroke-width="1.6"/>
<text x="1290.6" y="232.3" font-size="16" text-anchor="middle" font-family="'Liberation Sans', Arial, Helvetica, sans-serif">1.0</text>
<text x="1142.7" y="247.5" font-size="16.6" text-anchor="middle" font-family="'Liberation Sans', Arial, Helvetica, sans-serif">Memory</text>
<polygon points="994.1,201.5 994.1,40 994.4,26 994.8,23.9 995.2,26 995.6,60 996,120 996.6,160 997.2,175 998.5,190 1000.7,199.5 1003,201.5" fill="#bdbdbd" stroke="#777" stroke-width="1.2"/>
<line x1="995.5" y1="201.2" x2="1290.6" y2="201.2" stroke="#00cc00" stroke-width="3"/>
<text x="1171.8" y="19.5" font-size="14.3" fill="#ff2a2a" font-family="'Liberation Sans', Arial, Helvetica, sans-serif">mem.strength: 2</text>
<text x="1171.8" y="37.3" font-size="14.3" fill="#ff2a2a" font-family="'Liberation Sans', Arial, Helvetica, sans-serif">mem.mean: 0.4</text>
<text x="1171.8" y="55" font-size="14.3" fill="#ff2a2a" font-family="'Liberation Sans', Arial, Helvetica, sans-serif">207 1cm sections</text>
<rect x="227.7" y="826" width="36" height="17" fill="#f4f4f4"/>
<polygon points="263.3,843 263.3,827.5 266,827.5 266,824.5 269,824.5 269,821.5 272,821.5 272,818.6 274,818.2 678.4,817.9 687.7,826.1 756.4,824.4 951.8,824.4 958.8,811 964.6,797.4 1080,795.5 1107,797.2 1112,806 1117,807.6 1177.9,807.6 1183.9,800.3 1190,775 1194.7,748 1205.4,717.2 1210,700 1216.2,683.3 1224,672 1231.6,661.7 1235,645 1239.3,624.8 1243,598 1247,563.2 1251.6,532.4 1254,512 1256.3,503.1 1259.3,505 1259.3,843" fill="#e4e4e4"/>
<polygon points="263.3,843 263.3,832 266.5,832 266.5,829.5 270,829.5 270,827.5 274,827.5 274,826.3 678.4,826 690,833 951.8,833 958.8,822 964.6,812.8 1107,812.8 1113,818 1175,818 1180.8,817.3 1187,812.6 1194,796 1200.8,778.8 1207,760 1214.7,743.4 1222,735 1230,726.4 1236,700 1242.4,661.7 1248,645 1254.7,634 1259.3,636 1259.3,843" fill="#d0d0d0"/>
<polyline points="252.6,834.8 678.4,834.2 688,837.2 756,836.1 951,836.5 958,832 964.6,829.1 1107,829 1113,831.2 1180,831.2 1183.9,829.6 1191,821 1199.3,812.7 1207,806 1214.7,801.9 1227,800.3 1234,796 1240.9,789.6 1248,779 1254.7,765.8 1257.5,768 1260.3,775.7" fill="none" stroke="#555" stroke-width="2"/>
<polyline points="227.7,834.8 252.6,834.8" fill="none" stroke="#e8e8e8" stroke-width="1.5"/>
<polygon points="229.1,816.4 236,807.5 240.7,803.2 245.3,798.8 250,794.5 254,791.3 258,788.1 262,784.9 266,781.6 270,778.4 274.3,775.8 278.6,773.1 282.9,770.4 287.1,767.7 291.4,765.1 295.7,762.4 300,759.7 304,757.3 308,754.8 312,752.3 316,749.8 320,747.3 324,744.9 328,742.4 332,739.9 336,737.4 340,735 344,732.5 348,730 352,727.5 356,725 360,722.6 364,720.2 368.1,717.8 372.1,715.3 376.2,712.9 380.2,710.5 384.3,708.1 388.3,705.7 392.4,703.3 396.4,700.9 400.5,698.5 404.5,696.1 408.5,693.7 412.6,691.3 416.6,688.9 420.7,686.5 424.7,684.1 428.8,681.6 432.8,679.2 436.9,676.8 440.9,674.4 445,672 449,669.6 453.1,667.4 457.2,665.1 461.3,662.9 465.4,660.6 469.5,658.4 473.6,656.1 477.7,653.9 481.8,651.6 485.9,649.4 490,647.1 494,644.8 498,642.5 502,640.2 506,637.9 510,635.6 514,633.3 518,631 522,628.7 526,626.4 530,624.1 534,621.5 538,618.9 542,616.4 546,613.8 550,611.2 554,608.6 558,606.1 562,603.5 566,600.9 570,598.3 574.2,596.4 578.4,594.4 582.7,592.4 586.9,590.4 591.1,588.5 595.3,586.5 599.6,584.5 603.8,582.5 608,580.6 612,578.1 616,575.7 620,573.2 624,570.8 628,568.3 632,565.8 636,563.4 640,560.9 644.3,558.2 648.7,555.5 653,552.8 657.3,550.1 661.7,547.3 666,544.6 670.6,542 675.2,539.4 679.8,536.8 684.4,534.1 689,531.5 690.5,531.7 695.3,528.6 700.1,525.5 705,522.4 709.8,519.3 714.1,516.7 718.3,514 722.6,511.3 726.8,508.7 731.1,506 735.5,503.2 739.9,500.3 744.2,497.5 748.6,494.6 753,491.8 757.2,489.7 761.3,487.7 765.5,485.6 769.6,483.6 773.8,481.5 778.1,479.3 782.3,477.1 786.6,475 790.8,472.8 795.1,470.6 799.4,468.4 803.6,466.2 807.9,464 812.1,461.8 816.4,459.6 820.7,457 825,454.4 829.2,451.8 833.5,449.2 837.8,446.6 842.3,444.2 846.8,441.9 851.3,439.5 855.8,437.2 860.3,434.9 864.4,431.9 868.6,428.9 872.7,425.9 876.9,422.9 881,419.9 885.1,416.9 889.3,413.9 893.4,410.9 897.6,407.9 901.7,404.9 905.8,402.2 910,399.5 914.1,396.8 918.3,394.1 922.4,391.4 926.5,388.7 930.7,386.1 934.8,383.4 939,380.7 943.1,378 948.3,374.7 953.4,371.4 958.6,368.1 962.9,366.9 967.2,365.8 971.5,364.6 975.8,363.4 980.1,362.3 984.4,361.1 989.6,359.7 994.8,358.2 1000,356.7 1004.2,355.7 1008.3,354.6 1012.5,353.6 1016.6,352.5 1020.8,351.5 1024.9,350.4 1029.1,349.3 1033.3,348.3 1037.4,347.2 1041.6,346.2 1045.7,345.1 1049.9,344.1 1054,343 1058.2,342 1062.5,340.6 1066.7,339.2 1071,337.8 1075.2,336.4 1079.5,335 1083.7,333.6 1088,332.2 1092.2,330.8 1096.5,329.4 1100.7,328 1105,326.6 1109.2,325.2 1113.5,323.8 1115.5,324 1119.6,322.8 1123.7,321.7 1127.8,320.6 1131.8,319.4 1135.9,318.3 1140,317.2 1144.4,315.9 1148.7,314.7 1153.1,313.4 1157.5,312.2 1161.9,311 1166.2,309.7 1170.6,308.5 1178,309.8 1178,313.2 1170.6,318.2 1166.2,320.1 1161.9,322 1157.5,323.9 1153.1,325.8 1148.7,327.7 1144.4,329.6 1140,331.5 1135.9,333.3 1131.8,335.1 1127.8,336.8 1123.7,338.6 1119.6,340.4 1115.5,342.2 1113.5,342.5 1109.2,343.8 1105,345.1 1100.7,346.5 1096.5,347.8 1092.2,349.1 1088,350.4 1083.7,351.7 1079.5,353 1075.2,354.4 1071,355.7 1066.7,357 1062.5,358.3 1058.2,359.6 1054,360.6 1049.9,361.5 1045.7,362.4 1041.6,363.4 1037.4,364.3 1033.3,365.2 1029.1,366.2 1024.9,367.1 1020.8,368 1016.6,369 1012.5,369.9 1008.3,370.9 1004.2,371.8 1000,372.7 994.8,375.1 989.6,377.5 984.4,379.9 980.1,381 975.8,382.2 971.5,383.4 967.2,384.5 962.9,385.7 958.6,386.8 953.4,390.9 948.3,394.9 943.1,399 939,401.9 934.8,404.9 930.7,407.8 926.5,410.8 922.4,413.7 918.3,416.7 914.1,419.6 910,422.6 905.8,425.5 901.7,428.5 897.6,431.7 893.4,434.8 889.3,438 885.1,441.2 881,444.4 876.9,447.5 872.7,450.7 868.6,453.9 864.4,457.1 860.3,460.2 855.8,463.7 851.3,467.1 846.8,470.6 842.3,474 837.8,477.4 833.5,481.7 829.2,486 825,490.2 820.7,494.5 816.4,498.8 812.1,502.4 807.9,506.1 803.6,509.7 799.4,513.4 795.1,517 790.8,520.7 786.6,524.3 782.3,528 778.1,531.6 773.8,535.3 769.6,538.3 765.5,541.3 761.3,544.3 757.2,547.3 753,550.4 748.6,553.9 744.2,557.4 739.9,560.9 735.5,564.5 731.1,568 726.8,571.6 722.6,575.2 718.3,578.7 714.1,582.3 709.8,585.9 705,588.3 700.1,590.8 695.3,593.2 690.5,595.7 689,597.7 684.4,599.9 679.8,602.1 675.2,604.3 670.6,606.4 666,608.6 661.7,611 657.3,613.3 653,615.7 648.7,618 644.3,620.4 640,622.7 636,624.6 632,626.5 628,628.3 624,630.2 620,632.1 616,634 612,635.8 608,637.7 603.8,640.2 599.6,642.7 595.3,645.2 591.1,647.7 586.9,650.2 582.7,652.7 578.4,655.2 574.2,657.6 570,660.1 566,662.4 562,664.6 558,666.9 554,669.1 550,671.3 546,673.6 542,675.8 538,678.1 534,680.3 530,682.6 526,684.7 522,686.8 518,689 514,691.1 510,693.3 506,695.4 502,697.5 498,699.7 494,701.8 490,704 485.9,706.3 481.8,708.7 477.7,711 473.6,713.4 469.5,715.7 465.4,718 461.3,720.4 457.2,722.7 453.1,725.1 449,727.4 445,729.3 440.9,731.1 436.9,732.9 432.8,734.8 428.8,736.6 424.7,738.5 420.7,740.3 416.6,742.2 412.6,744 408.5,745.8 404.5,747.7 400.5,749.5 396.4,751.4 392.4,753.2 388.3,755 384.3,756.9 380.2,758.7 376.2,760.6 372.1,762.4 368.1,764.2 364,766.1 360,767.9 356,769.6 352,771.4 348,773.1 344,774.8 340,776.5 336,778.2 332,780 328,781.7 324,783.4 320,785.1 316,786.8 312,788.6 308,790.3 304,792 300,793.7 295.7,795.6 291.4,797.4 287.1,799.2 282.9,801.1 278.6,802.9 274.3,804.7 270,806.6 266,808.1 262,809.7 258,811.2 254,812.8 250,814.3 245.3,815.2 240.7,816.1 236,816.9 229.1,816.4" fill="#000" fill-opacity="0.110"/>
<polygon points="229.1,816.4 236,808.2 240.7,804 245.3,799.9 250,795.8 254,792.8 258,789.7 262,786.6 266,783.6 270,780.5 274.3,777.9 278.6,775.3 282.9,772.7 287.1,770 291.4,767.4 295.7,764.8 300,762.2 304,759.8 308,757.3 312,754.9 316,752.5 320,750 324,747.6 328,745.1 332,742.7 336,740.3 340,737.8 344,735.4 348,733 352,730.5 356,728.1 360,725.7 364,723.3 368.1,720.9 372.1,718.6 376.2,716.2 380.2,713.8 384.3,711.4 388.3,709.1 392.4,706.7 396.4,704.3 400.5,702 404.5,699.6 408.5,697.2 412.6,694.9 416.6,692.5 420.7,690.1 424.7,687.8 428.8,685.4 432.8,683 436.9,680.7 440.9,678.3 445,675.9 449,673.6 453.1,671.4 457.2,669.2 461.3,667 465.4,664.8 469.5,662.6 473.6,660.4 477.7,658.2 481.8,656 485.9,653.8 490,651.6 494,649.4 498,647.1 502,644.9 506,642.7 510,640.4 514,638.2 518,636 522,633.7 526,631.5 530,629.3 534,626.8 538,624.3 542,621.8 546,619.4 550,616.9 554,614.4 558,611.9 562,609.5 566,607 570,604.5 574.2,602.5 578.4,600.5 582.7,598.6 586.9,596.6 591.1,594.6 595.3,592.6 599.6,590.7 603.8,588.7 608,586.7 612,584.3 616,581.9 620,579.6 624,577.2 628,574.8 632,572.4 636,570 640,567.6 644.3,565 648.7,562.3 653,559.7 657.3,557 661.7,554.4 666,551.7 670.6,549.1 675.2,546.6 679.8,544 684.4,541.4 689,538.8 690.5,538.1 695.3,534.9 700.1,531.8 705,528.6 709.8,525.5 714.1,522.8 718.3,520.1 722.6,517.4 726.8,514.7 731.1,512 735.5,509 739.9,506.1 744.2,503.2 748.6,500.3 753,497.4 757.2,494.9 761.3,492.5 765.5,490.1 769.6,487.6 773.8,485.2 778.1,482.9 782.3,480.6 786.6,478.3 790.8,476 795.1,473.7 799.4,471.3 803.6,469 807.9,466.7 812.1,464.4 816.4,462.1 820.7,459.4 825,456.7 829.2,453.9 833.5,451.2 837.8,448.5 842.3,446 846.8,443.6 851.3,441.2 855.8,438.8 860.3,436.4 864.4,433.4 868.6,430.4 872.7,427.4 876.9,424.4 881,421.4 885.1,418.4 889.3,415.4 893.4,412.4 897.6,409.4 901.7,406.4 905.8,403.7 910,401 914.1,398.3 918.3,395.5 922.4,392.8 926.5,390.1 930.7,387.4 934.8,384.7 939,382 943.1,379.3 948.3,376 953.4,372.6 958.6,369.3 962.9,368.1 967.2,367 971.5,365.8 975.8,364.6 980.1,363.5 984.4,362.3 989.6,360.8 994.8,359.3 1000,357.9 1004.2,356.8 1008.3,355.8 1012.5,354.8 1016.6,353.7 1020.8,352.7 1024.9,351.6 1029.1,350.6 1033.3,349.6 1037.4,348.5 1041.6,347.5 1045.7,346.5 1049.9,345.4 1054,344.4 1058.2,343.3 1062.5,342 1066.7,340.6 1071,339.2 1075.2,337.8 1079.5,336.4 1083.7,335.1 1088,333.7 1092.2,332.3 1096.5,330.9 1100.7,329.5 1105,328.2 1109.2,326.8 1113.5,325.4 1115.5,325.3 1119.6,324.2 1123.7,323 1127.8,321.8 1131.8,320.6 1135.9,319.4 1140,318.3 1144.4,317 1148.7,315.7 1153.1,314.4 1157.5,313.1 1161.9,311.8 1166.2,310.5 1170.6,309.2 1178,310.1 1178,312.9 1170.6,317.7 1166.2,319.6 1161.9,321.4 1157.5,323.3 1153.1,325.2 1148.7,327.1 1144.4,329 1140,330.8 1135.9,332.6 1131.8,334.3 1127.8,336.1 1123.7,337.8 1119.6,339.5 1115.5,341.3 1113.5,341.8 1109.2,343.1 1105,344.4 1100.7,345.7 1096.5,347.1 1092.2,348.4 1088,349.7 1083.7,351 1079.5,352.3 1075.2,353.6 1071,354.9 1066.7,356.2 1062.5,357.5 1058.2,358.8 1054,359.7 1049.9,360.7 1045.7,361.6 1041.6,362.5 1037.4,363.5 1033.3,364.4 1029.1,365.3 1024.9,366.3 1020.8,367.2 1016.6,368.2 1012.5,369.1 1008.3,370 1004.2,371 1000,371.9 994.8,374.2 989.6,376.4 984.4,378.7 980.1,379.9 975.8,381.1 971.5,382.2 967.2,383.4 962.9,384.6 958.6,385.7 953.4,389.7 948.3,393.7 943.1,397.7 939,400.6 934.8,403.6 930.7,406.5 926.5,409.4 922.4,412.4 918.3,415.3 914.1,418.2 910,421.2 905.8,424.1 901.7,427.1 897.6,430.2 893.4,433.4 889.3,436.5 885.1,439.7 881,442.8 876.9,446 872.7,449.1 868.6,452.3 864.4,455.4 860.3,458.6 855.8,462 851.3,465.4 846.8,468.8 842.3,472.1 837.8,475.5 833.5,479.7 829.2,483.9 825,488.1 820.7,492.3 816.4,496.4 812.1,500 807.9,503.6 803.6,507.2 799.4,510.8 795.1,514.3 790.8,517.9 786.6,521.5 782.3,525.1 778.1,528.7 773.8,532.3 769.6,535.6 765.5,538.8 761.3,542.1 757.2,545.4 753,548.7 748.6,552.2 744.2,555.7 739.9,559.2 735.5,562.8 731.1,566.3 726.8,569.8 722.6,573.3 718.3,576.8 714.1,580.3 709.8,583.8 705,586.4 700.1,589 695.3,591.5 690.5,594.1 689,596.8 684.4,599 679.8,601.2 675.2,603.4 670.6,605.6 666,607.8 661.7,610.1 657.3,612.5 653,614.8 648.7,617.1 644.3,619.4 640,621.8 636,623.6 632,625.5 628,627.4 624,629.3 620,631.1 616,633 612,634.9 608,636.8 603.8,639.2 599.6,641.6 595.3,644.1 591.1,646.5 586.9,648.9 582.7,651.3 578.4,653.8 574.2,656.2 570,658.6 566,660.8 562,663 558,665.2 554,667.4 550,669.6 546,671.8 542,673.9 538,676.1 534,678.3 530,680.5 526,682.6 522,684.7 518,686.8 514,688.8 510,690.9 506,693 502,695.1 498,697.2 494,699.3 490,701.4 485.9,703.6 481.8,705.9 477.7,708.2 473.6,710.5 469.5,712.8 465.4,715.1 461.3,717.4 457.2,719.6 453.1,721.9 449,724.2 445,726.1 440.9,728 436.9,729.8 432.8,731.7 428.8,733.6 424.7,735.4 420.7,737.3 416.6,739.2 412.6,741.1 408.5,742.9 404.5,744.8 400.5,746.7 396.4,748.5 392.4,750.4 388.3,752.3 384.3,754.2 380.2,756 376.2,757.9 372.1,759.8 368.1,761.6 364,763.5 360,765.4 356,767.2 352,768.9 348,770.7 344,772.5 340,774.2 336,776 332,777.8 328,779.6 324,781.3 320,783.1 316,784.9 312,786.7 308,788.4 304,790.2 300,792 295.7,793.9 291.4,795.7 287.1,797.6 282.9,799.5 278.6,801.4 274.3,803.3 270,805.2 266,806.8 262,808.4 258,810 254,811.6 250,813.2 245.3,814.3 240.7,815.3 236,816.4 229.1,816.4" fill="#000" fill-opacity="0.082"/>
<polygon points="229.1,816.4 236,808.6 240.7,804.6 245.3,800.7 250,796.8 254,793.8 258,790.8 262,787.9 266,784.9 270,781.9 274.3,779.4 278.6,776.8 282.9,774.2 287.1,771.6 291.4,769.1 295.7,766.5 300,763.9 304,761.5 308,759.1 312,756.7 316,754.3 320,751.9 324,749.5 328,747.1 332,744.7 336,742.2 340,739.8 344,737.4 348,735 352,732.6 356,730.2 360,727.8 364,725.5 368.1,723.1 372.1,720.8 376.2,718.4 380.2,716.1 384.3,713.8 388.3,711.4 392.4,709.1 396.4,706.7 400.5,704.4 404.5,702.1 408.5,699.7 412.6,697.4 416.6,695 420.7,692.7 424.7,690.4 428.8,688 432.8,685.7 436.9,683.3 440.9,681 445,678.6 449,676.3 453.1,674.1 457.2,672 461.3,669.8 465.4,667.7 469.5,665.5 473.6,663.3 477.7,661.2 481.8,659 485.9,656.8 490,654.7 494,652.5 498,650.3 502,648.1 506,646 510,643.8 514,641.6 518,639.4 522,637.2 526,635.1 530,632.9 534,630.5 538,628.1 542,625.6 546,623.2 550,620.8 554,618.4 558,616 562,613.6 566,611.2 570,608.8 574.2,606.8 578.4,604.8 582.7,602.8 586.9,600.8 591.1,598.9 595.3,596.9 599.6,594.9 603.8,592.9 608,590.9 612,588.6 616,586.3 620,583.9 624,581.6 628,579.3 632,577 636,574.6 640,572.3 644.3,569.7 648.7,567.1 653,564.5 657.3,561.9 661.7,559.3 666,556.7 670.6,554.1 675.2,551.5 679.8,548.9 684.4,546.4 689,543.8 690.5,542.5 695.3,539.3 700.1,536.1 705,532.9 709.8,529.8 714.1,527 718.3,524.3 722.6,521.6 726.8,518.8 731.1,516.1 735.5,513.1 739.9,510.2 744.2,507.2 748.6,504.2 753,501.3 757.2,498.6 761.3,495.8 765.5,493.1 769.6,490.4 773.8,487.7 778.1,485.3 782.3,483 786.6,480.6 790.8,478.2 795.1,475.8 799.4,473.4 803.6,471 807.9,468.6 812.1,466.3 816.4,463.9 820.7,461.1 825,458.2 829.2,455.4 833.5,452.6 837.8,449.8 842.3,447.3 846.8,444.8 851.3,442.4 855.8,439.9 860.3,437.4 864.4,434.4 868.6,431.4 872.7,428.4 876.9,425.4 881,422.4 885.1,419.4 889.3,416.4 893.4,413.4 897.6,410.4 901.7,407.4 905.8,404.7 910,402 914.1,399.3 918.3,396.5 922.4,393.8 926.5,391.1 930.7,388.4 934.8,385.7 939,382.9 943.1,380.2 948.3,376.9 953.4,373.5 958.6,370.2 962.9,369 967.2,367.8 971.5,366.6 975.8,365.4 980.1,364.3 984.4,363.1 989.6,361.6 994.8,360.1 1000,358.7 1004.2,357.6 1008.3,356.6 1012.5,355.6 1016.6,354.6 1020.8,353.5 1024.9,352.5 1029.1,351.5 1033.3,350.5 1037.4,349.4 1041.6,348.4 1045.7,347.4 1049.9,346.3 1054,345.3 1058.2,344.3 1062.5,342.9 1066.7,341.6 1071,340.2 1075.2,338.8 1079.5,337.5 1083.7,336.1 1088,334.7 1092.2,333.4 1096.5,332 1100.7,330.6 1105,329.3 1109.2,327.9 1113.5,326.5 1115.5,326.3 1119.6,325.1 1123.7,323.9 1127.8,322.7 1131.8,321.4 1135.9,320.2 1140,319 1144.4,317.7 1148.7,316.3 1153.1,315 1157.5,313.7 1161.9,312.3 1166.2,311 1170.6,309.6 1178,310.2 1178,312.8 1170.6,317.3 1166.2,319.2 1161.9,321 1157.5,322.9 1153.1,324.8 1148.7,326.6 1144.4,328.5 1140,330.4 1135.9,332.1 1131.8,333.8 1127.8,335.5 1123.7,337.2 1119.6,338.9 1115.5,340.7 1113.5,341.4 1109.2,342.7 1105,344 1100.7,345.3 1096.5,346.5 1092.2,347.8 1088,349.1 1083.7,350.4 1079.5,351.7 1075.2,353 1071,354.3 1066.7,355.6 1062.5,356.9 1058.2,358.2 1054,359.2 1049.9,360.1 1045.7,361 1041.6,362 1037.4,362.9 1033.3,363.8 1029.1,364.8 1024.9,365.7 1020.8,366.6 1016.6,367.6 1012.5,368.5 1008.3,369.4 1004.2,370.4 1000,371.3 994.8,373.5 989.6,375.7 984.4,377.9 980.1,379.1 975.8,380.3 971.5,381.4 967.2,382.6 962.9,383.8 958.6,385 953.4,388.9 948.3,392.9 943.1,396.8 939,399.7 934.8,402.6 930.7,405.6 926.5,408.5 922.4,411.4 918.3,414.4 914.1,417.3 910,420.2 905.8,423.1 901.7,426.1 897.6,429.2 893.4,432.3 889.3,435.5 885.1,438.6 881,441.8 876.9,444.9 872.7,448 868.6,451.2 864.4,454.3 860.3,457.5 855.8,460.8 851.3,464.2 846.8,467.5 842.3,470.9 837.8,474.2 833.5,478.3 829.2,482.5 825,486.6 820.7,490.7 816.4,494.8 812.1,498.4 807.9,501.9 803.6,505.4 799.4,509 795.1,512.5 790.8,516 786.6,519.6 782.3,523.1 778.1,526.6 773.8,530.2 769.6,533.7 765.5,537.1 761.3,540.6 757.2,544.1 753,547.5 748.6,551.1 744.2,554.6 739.9,558.1 735.5,561.6 731.1,565.1 726.8,568.5 722.6,572 718.3,575.4 714.1,578.9 709.8,582.3 705,585 700.1,587.7 695.3,590.4 690.5,593 689,596.1 684.4,598.3 679.8,600.6 675.2,602.8 670.6,605 666,607.2 661.7,609.5 657.3,611.9 653,614.2 648.7,616.5 644.3,618.8 640,621.1 636,623 632,624.9 628,626.7 624,628.6 620,630.5 616,632.4 612,634.2 608,636.1 603.8,638.5 599.6,640.9 595.3,643.3 591.1,645.7 586.9,648 582.7,650.4 578.4,652.8 574.2,655.2 570,657.6 566,659.7 562,661.9 558,664 554,666.2 550,668.3 546,670.5 542,672.6 538,674.8 534,676.9 530,679.1 526,681.1 522,683.2 518,685.2 514,687.3 510,689.3 506,691.4 502,693.4 498,695.5 494,697.5 490,699.6 485.9,701.8 481.8,704 477.7,706.3 473.6,708.5 469.5,710.8 465.4,713 461.3,715.3 457.2,717.5 453.1,719.7 449,722 445,723.9 440.9,725.8 436.9,727.7 432.8,729.6 428.8,731.4 424.7,733.3 420.7,735.2 416.6,737.1 412.6,739 408.5,740.9 404.5,742.8 400.5,744.7 396.4,746.6 392.4,748.5 388.3,750.4 384.3,752.3 380.2,754.2 376.2,756.1 372.1,757.9 368.1,759.8 364,761.7 360,763.6 356,765.4 352,767.2 348,769.1 344,770.9 340,772.7 336,774.5 332,776.3 328,778.1 324,779.9 320,781.7 316,783.5 312,785.3 308,787.1 304,788.9 300,790.8 295.7,792.7 291.4,794.6 287.1,796.5 282.9,798.4 278.6,800.3 274.3,802.3 270,804.2 266,805.8 262,807.5 258,809.1 254,810.8 250,812.4 245.3,813.6 240.7,814.8 236,816 229.1,816.4" fill="#000" fill-opacity="0.089"/>
<polygon points="229.1,816.4 236,808.9 240.7,805.1 245.3,801.3 250,797.5 254,794.6 258,791.8 262,788.9 266,786 270,783.1 274.3,780.6 278.6,778 282.9,775.5 287.1,772.9 291.4,770.4 295.7,767.8 300,765.3 304,762.9 308,760.5 312,758.2 316,755.8 320,753.4 324,751 328,748.6 332,746.2 336,743.8 340,741.5 344,739.1 348,736.7 352,734.3 356,731.9 360,729.5 364,727.2 368.1,724.9 372.1,722.6 376.2,720.3 380.2,718 384.3,715.6 388.3,713.3 392.4,711 396.4,708.7 400.5,706.4 404.5,704 408.5,701.7 412.6,699.4 416.6,697.1 420.7,694.8 424.7,692.5 428.8,690.1 432.8,687.8 436.9,685.5 440.9,683.2 445,680.9 449,678.5 453.1,676.4 457.2,674.3 461.3,672.1 465.4,670 469.5,667.9 473.6,665.7 477.7,663.6 481.8,661.5 485.9,659.3 490,657.2 494,655 498,652.9 502,650.8 506,648.6 510,646.5 514,644.4 518,642.2 522,640.1 526,637.9 530,635.8 534,633.5 538,631.1 542,628.7 546,626.4 550,624 554,621.7 558,619.3 562,617 566,614.6 570,612.3 574.2,610.3 578.4,608.3 582.7,606.3 586.9,604.3 591.1,602.3 595.3,600.4 599.6,598.4 603.8,596.4 608,594.4 612,592.1 616,589.8 620,587.5 624,585.2 628,583 632,580.7 636,578.4 640,576.1 644.3,573.5 648.7,570.9 653,568.4 657.3,565.8 661.7,563.3 666,560.7 670.6,558.1 675.2,555.6 679.8,553 684.4,550.5 689,547.9 690.5,546.1 695.3,542.9 700.1,539.7 705,536.5 709.8,533.3 714.1,530.5 718.3,527.7 722.6,525 726.8,522.2 731.1,519.4 735.5,516.4 739.9,513.4 744.2,510.4 748.6,507.4 753,504.4 757.2,501.5 761.3,498.6 765.5,495.6 769.6,492.7 773.8,489.8 778.1,487.3 782.3,484.9 786.6,482.4 790.8,480 795.1,477.5 799.4,475.1 803.6,472.6 807.9,470.2 812.1,467.8 816.4,465.3 820.7,462.4 825,459.5 829.2,456.6 833.5,453.8 837.8,450.9 842.3,448.4 846.8,445.8 851.3,443.3 855.8,440.8 860.3,438.3 864.4,435.3 868.6,432.3 872.7,429.3 876.9,426.3 881,423.3 885.1,420.3 889.3,417.3 893.4,414.3 897.6,411.3 901.7,408.3 905.8,405.5 910,402.8 914.1,400.1 918.3,397.3 922.4,394.6 926.5,391.9 930.7,389.2 934.8,386.4 939,383.7 943.1,381 948.3,377.6 953.4,374.2 958.6,370.9 962.9,369.7 967.2,368.5 971.5,367.3 975.8,366.1 980.1,364.9 984.4,363.7 989.6,362.3 994.8,360.8 1000,359.3 1004.2,358.3 1008.3,357.3 1012.5,356.3 1016.6,355.2 1020.8,354.2 1024.9,353.2 1029.1,352.2 1033.3,351.2 1037.4,350.2 1041.6,349.1 1045.7,348.1 1049.9,347.1 1054,346.1 1058.2,345.1 1062.5,343.7 1066.7,342.4 1071,341 1075.2,339.6 1079.5,338.3 1083.7,336.9 1088,335.6 1092.2,334.2 1096.5,332.9 1100.7,331.5 1105,330.2 1109.2,328.8 1113.5,327.5 1115.5,327.1 1119.6,325.8 1123.7,324.6 1127.8,323.4 1131.8,322.1 1135.9,320.9 1140,319.6 1144.4,318.3 1148.7,316.9 1153.1,315.5 1157.5,314.1 1161.9,312.8 1166.2,311.4 1170.6,310 1178,310.3 1178,312.7 1170.6,317 1166.2,318.9 1161.9,320.7 1157.5,322.6 1153.1,324.4 1148.7,326.3 1144.4,328.1 1140,330 1135.9,331.7 1131.8,333.4 1127.8,335.1 1123.7,336.8 1119.6,338.5 1115.5,340.2 1113.5,341 1109.2,342.3 1105,343.6 1100.7,344.8 1096.5,346.1 1092.2,347.4 1088,348.7 1083.7,350 1079.5,351.3 1075.2,352.6 1071,353.9 1066.7,355.2 1062.5,356.5 1058.2,357.8 1054,358.7 1049.9,359.6 1045.7,360.6 1041.6,361.5 1037.4,362.4 1033.3,363.4 1029.1,364.3 1024.9,365.2 1020.8,366.2 1016.6,367.1 1012.5,368 1008.3,369 1004.2,369.9 1000,370.8 994.8,373 989.6,375.1 984.4,377.3 980.1,378.4 975.8,379.6 971.5,380.8 967.2,382 962.9,383.2 958.6,384.4 953.4,388.3 948.3,392.2 943.1,396.1 939,399 934.8,401.9 930.7,404.8 926.5,407.7 922.4,410.7 918.3,413.6 914.1,416.5 910,419.4 905.8,422.3 901.7,425.3 897.6,428.4 893.4,431.5 889.3,434.6 885.1,437.8 881,440.9 876.9,444 872.7,447.2 868.6,450.3 864.4,453.4 860.3,456.5 855.8,459.9 851.3,463.2 846.8,466.5 842.3,469.8 837.8,473.1 833.5,477.2 829.2,481.3 825,485.4 820.7,489.4 816.4,493.5 812.1,497 807.9,500.5 803.6,504 799.4,507.5 795.1,511 790.8,514.5 786.6,518 782.3,521.5 778.1,525 773.8,528.5 769.6,532.1 765.5,535.7 761.3,539.4 757.2,543 753,546.6 748.6,550.1 744.2,553.6 739.9,557.1 735.5,560.6 731.1,564.1 726.8,567.5 722.6,570.9 718.3,574.3 714.1,577.7 709.8,581.2 705,583.9 700.1,586.6 695.3,589.4 690.5,592.1 689,595.6 684.4,597.8 679.8,600 675.2,602.3 670.6,604.5 666,606.8 661.7,609.1 657.3,611.4 653,613.7 648.7,616 644.3,618.3 640,620.6 636,622.4 632,624.3 628,626.2 624,628.1 620,629.9 616,631.8 612,633.7 608,635.6 603.8,637.9 599.6,640.3 595.3,642.6 591.1,645 586.9,647.3 582.7,649.7 578.4,652 574.2,654.4 570,656.7 566,658.9 562,661 558,663.1 554,665.2 550,667.3 546,669.4 542,671.6 538,673.7 534,675.8 530,677.9 526,679.9 522,682 518,684 514,686 510,688 506,690 502,692 498,694.1 494,696.1 490,698.1 485.9,700.3 481.8,702.5 477.7,704.7 473.6,706.9 469.5,709.1 465.4,711.3 461.3,713.5 457.2,715.8 453.1,718 449,720.2 445,722.1 440.9,724 436.9,725.9 432.8,727.8 428.8,729.7 424.7,731.6 420.7,733.5 416.6,735.5 412.6,737.4 408.5,739.3 404.5,741.2 400.5,743.1 396.4,745 392.4,746.9 388.3,748.8 384.3,750.7 380.2,752.6 376.2,754.6 372.1,756.5 368.1,758.4 364,760.3 360,762.2 356,764 352,765.9 348,767.7 344,769.5 340,771.4 336,773.2 332,775.1 328,776.9 324,778.7 320,780.6 316,782.4 312,784.3 308,786.1 304,787.9 300,789.8 295.7,791.7 291.4,793.7 287.1,795.6 282.9,797.5 278.6,799.5 274.3,801.4 270,803.4 266,805.1 262,806.8 258,808.4 254,810.1 250,811.8 245.3,813.1 240.7,814.4 236,815.7 229.1,816.4" fill="#000" fill-opacity="0.098"/>
<polygon points="229.1,816.4 236,809.2 240.7,805.5 245.3,801.9 250,798.2 254,795.4 258,792.6 262,789.8 266,787 270,784.2 274.3,781.6 278.6,779.1 282.9,776.6 287.1,774.1 291.4,771.6 295.7,769 300,766.5 304,764.2 308,761.8 312,759.4 316,757.1 320,754.7 324,752.4 328,750 332,747.6 336,745.3 340,742.9 344,740.5 348,738.2 352,735.8 356,733.5 360,731.1 364,728.8 368.1,726.5 372.1,724.2 376.2,721.9 380.2,719.6 384.3,717.3 388.3,715 392.4,712.7 396.4,710.4 400.5,708.1 404.5,705.8 408.5,703.5 412.6,701.2 416.6,698.9 420.7,696.6 424.7,694.3 428.8,692 432.8,689.7 436.9,687.4 440.9,685.1 445,682.8 449,680.5 453.1,678.4 457.2,676.3 461.3,674.2 465.4,672.1 469.5,670 473.6,667.8 477.7,665.7 481.8,663.6 485.9,661.5 490,659.4 494,657.3 498,655.2 502,653.1 506,651 510,648.9 514,646.8 518,644.7 522,642.6 526,640.5 530,638.4 534,636.1 538,633.8 542,631.5 546,629.2 550,626.9 554,624.6 558,622.2 562,619.9 566,617.6 570,615.3 574.2,613.3 578.4,611.4 582.7,609.4 586.9,607.4 591.1,605.4 595.3,603.4 599.6,601.4 603.8,599.5 608,597.5 612,595.2 616,593 620,590.7 624,588.4 628,586.2 632,583.9 636,581.7 640,579.4 644.3,576.9 648.7,574.4 653,571.8 657.3,569.3 661.7,566.8 666,564.2 670.6,561.7 675.2,559.1 679.8,556.6 684.4,554.1 689,551.5 690.5,549.2 695.3,546 700.1,542.8 705,539.6 709.8,536.3 714.1,533.5 718.3,530.8 722.6,528 726.8,525.2 731.1,522.4 735.5,519.4 739.9,516.3 744.2,513.3 748.6,510.3 753,507.2 757.2,504.1 761.3,501 765.5,497.9 769.6,494.7 773.8,491.6 778.1,489.1 782.3,486.6 786.6,484.1 790.8,481.6 795.1,479.1 799.4,476.6 803.6,474.1 807.9,471.6 812.1,469.1 816.4,466.6 820.7,463.6 825,460.7 829.2,457.7 833.5,454.8 837.8,451.8 842.3,449.3 846.8,446.7 851.3,444.1 855.8,441.6 860.3,439 864.4,436 868.6,433 872.7,430 876.9,427 881,424 885.1,421 889.3,418 893.4,415 897.6,412 901.7,409 905.8,406.3 910,403.5 914.1,400.8 918.3,398.1 922.4,395.3 926.5,392.6 930.7,389.8 934.8,387.1 939,384.4 943.1,381.6 948.3,378.2 953.4,374.9 958.6,371.5 962.9,370.3 967.2,369.1 971.5,367.9 975.8,366.7 980.1,365.5 984.4,364.3 989.6,362.9 994.8,361.4 1000,359.9 1004.2,358.9 1008.3,357.9 1012.5,356.9 1016.6,355.9 1020.8,354.8 1024.9,353.8 1029.1,352.8 1033.3,351.8 1037.4,350.8 1041.6,349.8 1045.7,348.8 1049.9,347.8 1054,346.7 1058.2,345.7 1062.5,344.4 1066.7,343.1 1071,341.7 1075.2,340.4 1079.5,339 1083.7,337.7 1088,336.3 1092.2,335 1096.5,333.7 1100.7,332.3 1105,331 1109.2,329.6 1113.5,328.3 1115.5,327.7 1119.6,326.5 1123.7,325.2 1127.8,324 1131.8,322.7 1135.9,321.4 1140,320.2 1144.4,318.8 1148.7,317.4 1153.1,316 1157.5,314.6 1161.9,313.2 1166.2,311.8 1170.6,310.4 1178,310.4 1178,312.6 1170.6,316.8 1166.2,318.6 1161.9,320.4 1157.5,322.3 1153.1,324.1 1148.7,326 1144.4,327.8 1140,329.6 1135.9,331.3 1131.8,333 1127.8,334.7 1123.7,336.4 1119.6,338 1115.5,339.7 1113.5,340.6 1109.2,341.9 1105,343.2 1100.7,344.5 1096.5,345.8 1092.2,347.1 1088,348.4 1083.7,349.6 1079.5,350.9 1075.2,352.2 1071,353.5 1066.7,354.8 1062.5,356.1 1058.2,357.4 1054,358.3 1049.9,359.2 1045.7,360.2 1041.6,361.1 1037.4,362 1033.3,363 1029.1,363.9 1024.9,364.8 1020.8,365.8 1016.6,366.7 1012.5,367.6 1008.3,368.6 1004.2,369.5 1000,370.4 994.8,372.5 989.6,374.6 984.4,376.7 980.1,377.9 975.8,379.1 971.5,380.2 967.2,381.4 962.9,382.6 958.6,383.8 953.4,387.7 948.3,391.6 943.1,395.4 939,398.3 934.8,401.3 930.7,404.2 926.5,407.1 922.4,410 918.3,412.9 914.1,415.8 910,418.7 905.8,421.6 901.7,424.6 897.6,427.7 893.4,430.8 889.3,433.9 885.1,437 881,440.1 876.9,443.2 872.7,446.4 868.6,449.5 864.4,452.6 860.3,455.7 855.8,459 851.3,462.3 846.8,465.6 842.3,468.9 837.8,472.2 833.5,476.2 829.2,480.2 825,484.3 820.7,488.3 816.4,492.3 812.1,495.8 807.9,499.3 803.6,502.7 799.4,506.2 795.1,509.7 790.8,513.1 786.6,516.6 782.3,520 778.1,523.5 773.8,527 769.6,530.7 765.5,534.5 761.3,538.3 757.2,542 753,545.8 748.6,549.3 744.2,552.8 739.9,556.2 735.5,559.7 731.1,563.2 726.8,566.6 722.6,570 718.3,573.4 714.1,576.7 709.8,580.1 705,582.9 700.1,585.7 695.3,588.5 690.5,591.4 689,595.1 684.4,597.3 679.8,599.6 675.2,601.8 670.6,604.1 666,606.4 661.7,608.6 657.3,610.9 653,613.2 648.7,615.5 644.3,617.8 640,620.1 636,622 632,623.8 628,625.7 624,627.6 620,629.5 616,631.3 612,633.2 608,635.1 603.8,637.4 599.6,639.7 595.3,642.1 591.1,644.4 586.9,646.7 582.7,649 578.4,651.3 574.2,653.7 570,656 566,658.1 562,660.2 558,662.3 554,664.3 550,666.4 546,668.5 542,670.6 538,672.7 534,674.8 530,676.9 526,678.9 522,680.9 518,682.9 514,684.9 510,686.8 506,688.8 502,690.8 498,692.8 494,694.8 490,696.8 485.9,699 481.8,701.2 477.7,703.3 473.6,705.5 469.5,707.7 465.4,709.9 461.3,712 457.2,714.2 453.1,716.4 449,718.6 445,720.5 440.9,722.4 436.9,724.3 432.8,726.3 428.8,728.2 424.7,730.1 420.7,732 416.6,734 412.6,735.9 408.5,737.8 404.5,739.7 400.5,741.7 396.4,743.6 392.4,745.5 388.3,747.5 384.3,749.4 380.2,751.3 376.2,753.2 372.1,755.2 368.1,757.1 364,759 360,760.9 356,762.8 352,764.7 348,766.5 344,768.4 340,770.3 336,772.1 332,774 328,775.8 324,777.7 320,779.6 316,781.4 312,783.3 308,785.2 304,787 300,788.9 295.7,790.9 291.4,792.8 287.1,794.8 282.9,796.8 278.6,798.7 274.3,800.7 270,802.7 266,804.4 262,806.1 258,807.8 254,809.5 250,811.3 245.3,812.6 240.7,814 236,815.4 229.1,816.4" fill="#000" fill-opacity="0.108"/>
<polygon points="229.1,816.4 236,809.5 240.7,805.9 245.3,802.4 250,798.8 254,796.1 258,793.3 262,790.6 266,787.9 270,785.1 274.3,782.6 278.6,780.1 282.9,777.6 287.1,775.1 291.4,772.7 295.7,770.2 300,767.7 304,765.3 308,763 312,760.6 316,758.3 320,756 324,753.6 328,751.3 332,748.9 336,746.6 340,744.2 344,741.9 348,739.5 352,737.2 356,734.9 360,732.5 364,730.2 368.1,728 372.1,725.7 376.2,723.4 380.2,721.1 384.3,718.8 388.3,716.6 392.4,714.3 396.4,712 400.5,709.7 404.5,707.4 408.5,705.2 412.6,702.9 416.6,700.6 420.7,698.3 424.7,696 428.8,693.7 432.8,691.5 436.9,689.2 440.9,686.9 445,684.6 449,682.3 453.1,680.3 457.2,678.2 461.3,676.1 465.4,674 469.5,671.9 473.6,669.8 477.7,667.7 481.8,665.6 485.9,663.5 490,661.5 494,659.4 498,657.3 502,655.3 506,653.2 510,651.1 514,649.1 518,647 522,644.9 526,642.9 530,640.8 534,638.5 538,636.3 542,634 546,631.8 550,629.5 554,627.2 558,625 562,622.7 566,620.4 570,618.2 574.2,616.2 578.4,614.2 582.7,612.2 586.9,610.2 591.1,608.2 595.3,606.3 599.6,604.3 603.8,602.3 608,600.3 612,598.1 616,595.9 620,593.6 624,591.4 628,589.2 632,587 636,584.7 640,582.5 644.3,580 648.7,577.5 653,575 657.3,572.5 661.7,570 666,567.5 670.6,565 675.2,562.5 679.8,559.9 684.4,557.4 689,554.9 690.5,552.2 695.3,548.9 700.1,545.7 705,542.4 709.8,539.2 714.1,536.4 718.3,533.6 722.6,530.8 726.8,528 731.1,525.2 735.5,522.1 739.9,519 744.2,516 748.6,512.9 753,509.8 757.2,506.5 761.3,503.2 765.5,499.9 769.6,496.6 773.8,493.3 778.1,490.7 782.3,488.2 786.6,485.6 790.8,483.1 795.1,480.5 799.4,478 803.6,475.4 807.9,472.8 812.1,470.3 816.4,467.7 820.7,464.7 825,461.7 829.2,458.7 833.5,455.7 837.8,452.7 842.3,450.1 846.8,447.5 851.3,444.9 855.8,442.3 860.3,439.7 864.4,436.7 868.6,433.7 872.7,430.7 876.9,427.7 881,424.7 885.1,421.7 889.3,418.7 893.4,415.7 897.6,412.7 901.7,409.7 905.8,407 910,404.2 914.1,401.5 918.3,398.7 922.4,396 926.5,393.2 930.7,390.5 934.8,387.7 939,385 943.1,382.2 948.3,378.8 953.4,375.4 958.6,372 962.9,370.8 967.2,369.6 971.5,368.4 975.8,367.3 980.1,366.1 984.4,364.9 989.6,363.4 994.8,361.9 1000,360.4 1004.2,359.4 1008.3,358.4 1012.5,357.4 1016.6,356.4 1020.8,355.4 1024.9,354.4 1029.1,353.4 1033.3,352.4 1037.4,351.4 1041.6,350.4 1045.7,349.4 1049.9,348.4 1054,347.4 1058.2,346.4 1062.5,345 1066.7,343.7 1071,342.4 1075.2,341 1079.5,339.7 1083.7,338.4 1088,337 1092.2,335.7 1096.5,334.4 1100.7,333 1105,331.7 1109.2,330.4 1113.5,329 1115.5,328.4 1119.6,327.1 1123.7,325.8 1127.8,324.5 1131.8,323.3 1135.9,322 1140,320.7 1144.4,319.3 1148.7,317.8 1153.1,316.4 1157.5,315 1161.9,313.5 1166.2,312.1 1170.6,310.7 1178,310.5 1178,312.5 1170.6,316.5 1166.2,318.3 1161.9,320.2 1157.5,322 1153.1,323.8 1148.7,325.7 1144.4,327.5 1140,329.3 1135.9,331 1131.8,332.6 1127.8,334.3 1123.7,336 1119.6,337.6 1115.5,339.3 1113.5,340.3 1109.2,341.6 1105,342.9 1100.7,344.2 1096.5,345.4 1092.2,346.7 1088,348 1083.7,349.3 1079.5,350.6 1075.2,351.9 1071,353.1 1066.7,354.4 1062.5,355.7 1058.2,357 1054,357.9 1049.9,358.8 1045.7,359.8 1041.6,360.7 1037.4,361.6 1033.3,362.6 1029.1,363.5 1024.9,364.4 1020.8,365.4 1016.6,366.3 1012.5,367.2 1008.3,368.2 1004.2,369.1 1000,370 994.8,372.1 989.6,374.1 984.4,376.1 980.1,377.3 975.8,378.5 971.5,379.7 967.2,380.9 962.9,382.1 958.6,383.3 953.4,387.1 948.3,391 943.1,394.8 939,397.7 934.8,400.6 930.7,403.5 926.5,406.5 922.4,409.4 918.3,412.3 914.1,415.2 910,418.1 905.8,421 901.7,423.9 897.6,427 893.4,430.1 889.3,433.2 885.1,436.3 881,439.4 876.9,442.5 872.7,445.6 868.6,448.7 864.4,451.8 860.3,455 855.8,458.2 851.3,461.5 846.8,464.7 842.3,468 837.8,471.3 833.5,475.3 829.2,479.3 825,483.3 820.7,487.3 816.4,491.3 812.1,494.7 807.9,498.1 803.6,501.6 799.4,505 795.1,508.4 790.8,511.9 786.6,515.3 782.3,518.7 778.1,522.2 773.8,525.6 769.6,529.5 765.5,533.4 761.3,537.2 757.2,541.1 753,545 748.6,548.5 744.2,552 739.9,555.5 735.5,558.9 731.1,562.4 726.8,565.8 722.6,569.1 718.3,572.5 714.1,575.8 709.8,579.1 705,582 700.1,584.9 695.3,587.8 690.5,590.6 689,594.6 684.4,596.9 679.8,599.2 675.2,601.4 670.6,603.7 666,606 661.7,608.3 657.3,610.5 653,612.8 648.7,615.1 644.3,617.4 640,619.6 636,621.5 632,623.4 628,625.3 624,627.1 620,629 616,630.9 612,632.8 608,634.6 603.8,636.9 599.6,639.2 595.3,641.5 591.1,643.8 586.9,646.1 582.7,648.4 578.4,650.7 574.2,653 570,655.3 566,657.4 562,659.4 558,661.5 554,663.6 550,665.6 546,667.7 542,669.7 538,671.8 534,673.9 530,675.9 526,677.9 522,679.9 518,681.8 514,683.8 510,685.8 506,687.7 502,689.7 498,691.7 494,693.6 490,695.6 485.9,697.7 481.8,699.9 477.7,702 473.6,704.2 469.5,706.3 465.4,708.5 461.3,710.6 457.2,712.8 453.1,714.9 449,717.1 445,719 440.9,721 436.9,722.9 432.8,724.8 428.8,726.8 424.7,728.7 420.7,730.7 416.6,732.6 412.6,734.5 408.5,736.5 404.5,738.4 400.5,740.4 396.4,742.3 392.4,744.2 388.3,746.2 384.3,748.1 380.2,750.1 376.2,752 372.1,753.9 368.1,755.9 364,757.8 360,759.8 356,761.7 352,763.5 348,765.4 344,767.3 340,769.2 336,771.1 332,773 328,774.9 324,776.8 320,778.6 316,780.5 312,782.4 308,784.3 304,786.2 300,788.1 295.7,790.1 291.4,792.1 287.1,794.1 282.9,796.1 278.6,798 274.3,800 270,802 266,803.8 262,805.5 258,807.3 254,809 250,810.7 245.3,812.2 240.7,813.7 236,815.2 229.1,816.4" fill="#000" fill-opacity="0.121"/>
<polygon points="229.1,816.4 236,809.8 240.7,806.3 245.3,802.9 250,799.4 254,796.7 258,794.1 262,791.4 266,788.7 270,786.1 274.3,783.6 278.6,781.1 282.9,778.6 287.1,776.2 291.4,773.7 295.7,771.2 300,768.8 304,766.4 308,764.1 312,761.8 316,759.5 320,757.1 324,754.8 328,752.5 332,750.2 336,747.8 340,745.5 344,743.2 348,740.9 352,738.5 356,736.2 360,733.9 364,731.6 368.1,729.4 372.1,727.1 376.2,724.8 380.2,722.6 384.3,720.3 388.3,718.1 392.4,715.8 396.4,713.5 400.5,711.3 404.5,709 408.5,706.7 412.6,704.5 416.6,702.2 420.7,700 424.7,697.7 428.8,695.4 432.8,693.2 436.9,690.9 440.9,688.6 445,686.4 449,684.1 453.1,682 457.2,680 461.3,677.9 465.4,675.8 469.5,673.8 473.6,671.7 477.7,669.6 481.8,667.6 485.9,665.5 490,663.4 494,661.4 498,659.4 502,657.3 506,655.3 510,653.3 514,651.3 518,649.2 522,647.2 526,645.2 530,643.1 534,640.9 538,638.7 542,636.5 546,634.2 550,632 554,629.8 558,627.6 562,625.4 566,623.1 570,620.9 574.2,618.9 578.4,616.9 582.7,615 586.9,613 591.1,611 595.3,609 599.6,607 603.8,605 608,603 612,600.8 616,598.7 620,596.5 624,594.3 628,592.1 632,589.9 636,587.7 640,585.5 644.3,583 648.7,580.6 653,578.1 657.3,575.6 661.7,573.2 666,570.7 670.6,568.2 675.2,565.7 679.8,563.1 684.4,560.6 689,558.1 690.5,555 695.3,551.7 700.1,548.5 705,545.2 709.8,541.9 714.1,539.1 718.3,536.3 722.6,533.5 726.8,530.6 731.1,527.8 735.5,524.7 739.9,521.6 744.2,518.5 748.6,515.4 753,512.3 757.2,508.8 761.3,505.4 765.5,501.9 769.6,498.4 773.8,494.9 778.1,492.3 782.3,489.7 786.6,487.1 790.8,484.5 795.1,481.9 799.4,479.3 803.6,476.7 807.9,474.1 812.1,471.5 816.4,468.9 820.7,465.8 825,462.7 829.2,459.7 833.5,456.6 837.8,453.6 842.3,450.9 846.8,448.3 851.3,445.7 855.8,443 860.3,440.4 864.4,437.4 868.6,434.4 872.7,431.4 876.9,428.4 881,425.4 885.1,422.4 889.3,419.4 893.4,416.4 897.6,413.4 901.7,410.4 905.8,407.6 910,404.9 914.1,402.1 918.3,399.4 922.4,396.6 926.5,393.8 930.7,391.1 934.8,388.3 939,385.6 943.1,382.8 948.3,379.4 953.4,376 958.6,372.6 962.9,371.4 967.2,370.2 971.5,369 975.8,367.8 980.1,366.6 984.4,365.4 989.6,363.9 994.8,362.4 1000,360.9 1004.2,359.9 1008.3,359 1012.5,358 1016.6,357 1020.8,356 1024.9,355 1029.1,354 1033.3,353 1037.4,352 1041.6,351 1045.7,350 1049.9,349 1054,348 1058.2,347 1062.5,345.7 1066.7,344.3 1071,343 1075.2,341.7 1079.5,340.4 1083.7,339 1088,337.7 1092.2,336.4 1096.5,335.1 1100.7,333.7 1105,332.4 1109.2,331.1 1113.5,329.8 1115.5,329 1119.6,327.7 1123.7,326.4 1127.8,325.1 1131.8,323.8 1135.9,322.5 1140,321.2 1144.4,319.7 1148.7,318.3 1153.1,316.8 1157.5,315.4 1161.9,313.9 1166.2,312.4 1170.6,311 1178,310.6 1178,312.4 1170.6,316.3 1166.2,318.1 1161.9,319.9 1157.5,321.7 1153.1,323.6 1148.7,325.4 1144.4,327.2 1140,329 1135.9,330.7 1131.8,332.3 1127.8,334 1123.7,335.6 1119.6,337.3 1115.5,338.9 1113.5,340 1109.2,341.3 1105,342.6 1100.7,343.8 1096.5,345.1 1092.2,346.4 1088,347.7 1083.7,348.9 1079.5,350.2 1075.2,351.5 1071,352.8 1066.7,354.1 1062.5,355.3 1058.2,356.6 1054,357.5 1049.9,358.5 1045.7,359.4 1041.6,360.3 1037.4,361.3 1033.3,362.2 1029.1,363.1 1024.9,364.1 1020.8,365 1016.6,365.9 1012.5,366.9 1008.3,367.8 1004.2,368.7 1000,369.7 994.8,371.7 989.6,373.6 984.4,375.6 980.1,376.8 975.8,378 971.5,379.2 967.2,380.4 962.9,381.6 958.6,382.8 953.4,386.6 948.3,390.4 943.1,394.3 939,397.2 934.8,400.1 930.7,403 926.5,405.9 922.4,408.8 918.3,411.7 914.1,414.6 910,417.5 905.8,420.4 901.7,423.3 897.6,426.4 893.4,429.5 889.3,432.5 885.1,435.6 881,438.7 876.9,441.8 872.7,444.9 868.6,448 864.4,451.1 860.3,454.2 855.8,457.5 851.3,460.7 846.8,463.9 842.3,467.2 837.8,470.4 833.5,474.4 829.2,478.3 825,482.3 820.7,486.3 816.4,490.2 812.1,493.6 807.9,497 803.6,500.4 799.4,503.8 795.1,507.2 790.8,510.6 786.6,514 782.3,517.4 778.1,520.8 773.8,524.2 769.6,528.2 765.5,532.3 761.3,536.3 757.2,540.3 753,544.3 748.6,547.8 744.2,551.2 739.9,554.7 735.5,558.2 731.1,561.6 726.8,565 722.6,568.3 718.3,571.6 714.1,574.9 709.8,578.2 705,581.1 700.1,584.1 695.3,587 690.5,589.9 689,594.2 684.4,596.5 679.8,598.8 675.2,601.1 670.6,603.3 666,605.6 661.7,607.9 657.3,610.1 653,612.4 648.7,614.7 644.3,616.9 640,619.2 636,621.1 632,623 628,624.8 624,626.7 620,628.6 616,630.5 612,632.3 608,634.2 603.8,636.5 599.6,638.7 595.3,641 591.1,643.3 586.9,645.6 582.7,647.8 578.4,650.1 574.2,652.4 570,654.6 566,656.7 562,658.7 558,660.7 554,662.8 550,664.8 546,666.9 542,668.9 538,670.9 534,673 530,675 526,677 522,678.9 518,680.8 514,682.8 510,684.7 506,686.7 502,688.6 498,690.6 494,692.5 490,694.4 485.9,696.6 481.8,698.7 477.7,700.8 473.6,702.9 469.5,705 465.4,707.2 461.3,709.3 457.2,711.4 453.1,713.5 449,715.6 445,717.6 440.9,719.6 436.9,721.5 432.8,723.5 428.8,725.4 424.7,727.4 420.7,729.3 416.6,731.3 412.6,733.2 408.5,735.2 404.5,737.1 400.5,739.1 396.4,741 392.4,743 388.3,745 384.3,746.9 380.2,748.9 376.2,750.8 372.1,752.8 368.1,754.7 364,756.7 360,758.6 356,760.5 352,762.5 348,764.4 344,766.3 340,768.2 336,770.1 332,772 328,773.9 324,775.8 320,777.7 316,779.7 312,781.6 308,783.5 304,785.4 300,787.3 295.7,789.3 291.4,791.3 287.1,793.3 282.9,795.4 278.6,797.4 274.3,799.4 270,801.4 266,803.2 262,804.9 258,806.7 254,808.5 250,810.2 245.3,811.8 240.7,813.3 236,814.9 229.1,816.4" fill="#000" fill-opacity="0.138"/>
<polygon points="229.1,816.4 236,810.1 240.7,806.7 245.3,803.4 250,800 254,797.4 258,794.8 262,792.2 266,789.6 270,787 274.3,784.5 278.6,782.1 282.9,779.6 287.1,777.2 291.4,774.8 295.7,772.3 300,769.9 304,767.6 308,765.3 312,762.9 316,760.6 320,758.3 324,756 328,753.7 332,751.4 336,749.1 340,746.8 344,744.5 348,742.2 352,739.9 356,737.6 360,735.3 364,733 368.1,730.8 372.1,728.5 376.2,726.3 380.2,724 384.3,721.8 388.3,719.6 392.4,717.3 396.4,715.1 400.5,712.8 404.5,710.6 408.5,708.3 412.6,706.1 416.6,703.8 420.7,701.6 424.7,699.3 428.8,697.1 432.8,694.9 436.9,692.6 440.9,690.4 445,688.1 449,685.9 453.1,683.8 457.2,681.8 461.3,679.7 465.4,677.7 469.5,675.6 473.6,673.6 477.7,671.6 481.8,669.5 485.9,667.5 490,665.4 494,663.4 498,661.4 502,659.4 506,657.4 510,655.4 514,653.4 518,651.4 522,649.4 526,647.4 530,645.4 534,643.3 538,641.1 542,638.9 546,636.7 550,634.6 554,632.4 558,630.2 562,628 566,625.8 570,623.7 574.2,621.7 578.4,619.7 582.7,617.7 586.9,615.7 591.1,613.7 595.3,611.7 599.6,609.7 603.8,607.8 608,605.8 612,603.6 616,601.5 620,599.3 624,597.1 628,595 632,592.8 636,590.7 640,588.5 644.3,586.1 648.7,583.6 653,581.2 657.3,578.8 661.7,576.3 666,573.9 670.6,571.4 675.2,568.9 679.8,566.4 684.4,563.8 689,561.3 690.5,557.9 695.3,554.6 700.1,551.3 705,548 709.8,544.7 714.1,541.8 718.3,539 722.6,536.1 726.8,533.3 731.1,530.5 735.5,527.3 739.9,524.2 744.2,521.1 748.6,518 753,514.8 757.2,511.2 761.3,507.5 765.5,503.9 769.6,500.2 773.8,496.6 778.1,493.9 782.3,491.2 786.6,488.6 790.8,485.9 795.1,483.3 799.4,480.6 803.6,478 807.9,475.3 812.1,472.7 816.4,470 820.7,466.9 825,463.8 829.2,460.7 833.5,457.5 837.8,454.4 842.3,451.8 846.8,449.1 851.3,446.4 855.8,443.7 860.3,441.1 864.4,438.1 868.6,435.1 872.7,432.1 876.9,429.1 881,426.1 885.1,423.1 889.3,420.1 893.4,417.1 897.6,414.1 901.7,411.1 905.8,408.3 910,405.5 914.1,402.8 918.3,400 922.4,397.2 926.5,394.5 930.7,391.7 934.8,388.9 939,386.2 943.1,383.4 948.3,380 953.4,376.6 958.6,373.1 962.9,371.9 967.2,370.7 971.5,369.5 975.8,368.3 980.1,367.1 984.4,365.9 989.6,364.4 994.8,362.9 1000,361.5 1004.2,360.5 1008.3,359.5 1012.5,358.5 1016.6,357.5 1020.8,356.5 1024.9,355.5 1029.1,354.5 1033.3,353.5 1037.4,352.5 1041.6,351.6 1045.7,350.6 1049.9,349.6 1054,348.6 1058.2,347.6 1062.5,346.3 1066.7,345 1071,343.6 1075.2,342.3 1079.5,341 1083.7,339.7 1088,338.4 1092.2,337.1 1096.5,335.8 1100.7,334.5 1105,333.1 1109.2,331.8 1113.5,330.5 1115.5,329.6 1119.6,328.3 1123.7,327 1127.8,325.6 1131.8,324.3 1135.9,323 1140,321.7 1144.4,320.2 1148.7,318.7 1153.1,317.2 1157.5,315.7 1161.9,314.3 1166.2,312.8 1170.6,311.3 1178,310.7 1178,312.3 1170.6,316.1 1166.2,317.9 1161.9,319.7 1157.5,321.5 1153.1,323.3 1148.7,325.1 1144.4,326.9 1140,328.7 1135.9,330.3 1131.8,332 1127.8,333.6 1123.7,335.2 1119.6,336.9 1115.5,338.5 1113.5,339.7 1109.2,341 1105,342.2 1100.7,343.5 1096.5,344.8 1092.2,346.1 1088,347.3 1083.7,348.6 1079.5,349.9 1075.2,351.2 1071,352.4 1066.7,353.7 1062.5,355 1058.2,356.2 1054,357.2 1049.9,358.1 1045.7,359 1041.6,360 1037.4,360.9 1033.3,361.8 1029.1,362.8 1024.9,363.7 1020.8,364.6 1016.6,365.6 1012.5,366.5 1008.3,367.4 1004.2,368.4 1000,369.3 994.8,371.2 989.6,373.2 984.4,375.1 980.1,376.3 975.8,377.5 971.5,378.7 967.2,379.9 962.9,381.1 958.6,382.3 953.4,386.1 948.3,389.9 943.1,393.7 939,396.6 934.8,399.5 930.7,402.4 926.5,405.3 922.4,408.2 918.3,411 914.1,413.9 910,416.8 905.8,419.7 901.7,422.6 897.6,425.7 893.4,428.8 889.3,431.9 885.1,435 881,438.1 876.9,441.1 872.7,444.2 868.6,447.3 864.4,450.4 860.3,453.5 855.8,456.7 851.3,459.9 846.8,463.1 842.3,466.4 837.8,469.6 833.5,473.5 829.2,477.4 825,481.3 820.7,485.3 816.4,489.2 812.1,492.6 807.9,495.9 803.6,499.3 799.4,502.7 795.1,506 790.8,509.4 786.6,512.8 782.3,516.2 778.1,519.5 773.8,522.9 769.6,527 765.5,531.2 761.3,535.3 757.2,539.4 753,543.5 748.6,547 744.2,550.5 739.9,553.9 735.5,557.4 731.1,560.9 726.8,564.1 722.6,567.4 718.3,570.7 714.1,574 709.8,577.3 705,580.3 700.1,583.2 695.3,586.2 690.5,589.2 689,593.8 684.4,596.1 679.8,598.4 675.2,600.7 670.6,603 666,605.2 661.7,607.5 657.3,609.8 653,612 648.7,614.3 644.3,616.5 640,618.8 636,620.7 632,622.5 628,624.4 624,626.3 620,628.2 616,630 612,631.9 608,633.8 603.8,636 599.6,638.3 595.3,640.5 591.1,642.7 586.9,645 582.7,647.2 578.4,649.5 574.2,651.7 570,653.9 566,656 562,658 558,660 554,662 550,664 546,666 542,668.1 538,670.1 534,672.1 530,674.1 526,676 522,677.9 518,679.9 514,681.8 510,683.7 506,685.6 502,687.5 498,689.4 494,691.4 490,693.3 485.9,695.4 481.8,697.5 477.7,699.6 473.6,701.6 469.5,703.7 465.4,705.8 461.3,707.9 457.2,710 453.1,712.1 449,714.2 445,716.2 440.9,718.1 436.9,720.1 432.8,722.1 428.8,724 424.7,726 420.7,728 416.6,730 412.6,731.9 408.5,733.9 404.5,735.9 400.5,737.8 396.4,739.8 392.4,741.8 388.3,743.7 384.3,745.7 380.2,747.7 376.2,749.6 372.1,751.6 368.1,753.6 364,755.5 360,757.5 356,759.4 352,761.4 348,763.3 344,765.2 340,767.2 336,769.1 332,771 328,773 324,774.9 320,776.9 316,778.8 312,780.7 308,782.7 304,784.6 300,786.5 295.7,788.6 291.4,790.6 287.1,792.6 282.9,794.7 278.6,796.7 274.3,798.7 270,800.8 266,802.6 262,804.4 258,806.1 254,807.9 250,809.7 245.3,811.4 240.7,813 236,814.7 229.1,816.4" fill="#000" fill-opacity="0.160"/>
<polygon points="229.1,816.4 236,810.4 240.7,807.1 245.3,803.9 250,800.6 254,798.1 258,795.5 262,793 266,790.5 270,787.9 274.3,785.5 278.6,783.1 282.9,780.7 287.1,778.3 291.4,775.8 295.7,773.4 300,771 304,768.7 308,766.4 312,764.1 316,761.9 320,759.6 324,757.3 328,755 332,752.7 336,750.4 340,748.1 344,745.9 348,743.6 352,741.3 356,739 360,736.7 364,734.5 368.1,732.2 372.1,730 376.2,727.8 380.2,725.6 384.3,723.3 388.3,721.1 392.4,718.9 396.4,716.7 400.5,714.4 404.5,712.2 408.5,710 412.6,707.7 416.6,705.5 420.7,703.3 424.7,701.1 428.8,698.8 432.8,696.6 436.9,694.4 440.9,692.2 445,689.9 449,687.7 453.1,685.7 457.2,683.7 461.3,681.6 465.4,679.6 469.5,677.6 473.6,675.6 477.7,673.5 481.8,671.5 485.9,669.5 490,667.5 494,665.5 498,663.6 502,661.6 506,659.6 510,657.7 514,655.7 518,653.7 522,651.8 526,649.8 530,647.8 534,645.7 538,643.6 542,641.4 546,639.3 550,637.2 554,635 558,632.9 562,630.8 566,628.6 570,626.5 574.2,624.5 578.4,622.5 582.7,620.5 586.9,618.5 591.1,616.6 595.3,614.6 599.6,612.6 603.8,610.6 608,608.6 612,606.5 616,604.3 620,602.2 624,600.1 628,598 632,595.8 636,593.7 640,591.6 644.3,589.2 648.7,586.8 653,584.4 657.3,582 661.7,579.6 666,577.2 670.6,574.7 675.2,572.2 679.8,569.7 684.4,567.2 689,564.7 690.5,560.8 695.3,557.5 700.1,554.1 705,550.8 709.8,547.5 714.1,544.6 718.3,541.8 722.6,538.9 726.8,536.1 731.1,533.2 735.5,530.1 739.9,526.9 744.2,523.7 748.6,520.6 753,517.4 757.2,513.6 761.3,509.7 765.5,505.9 769.6,502.1 773.8,498.2 778.1,495.5 782.3,492.8 786.6,490.1 790.8,487.4 795.1,484.7 799.4,482 803.6,479.3 807.9,476.6 812.1,473.9 816.4,471.2 820.7,468 825,464.8 829.2,461.7 833.5,458.5 837.8,455.3 842.3,452.6 846.8,449.9 851.3,447.2 855.8,444.5 860.3,441.7 864.4,438.7 868.6,435.7 872.7,432.7 876.9,429.7 881,426.7 885.1,423.7 889.3,420.7 893.4,417.7 897.6,414.7 901.7,411.7 905.8,409 910,406.2 914.1,403.4 918.3,400.7 922.4,397.9 926.5,395.1 930.7,392.3 934.8,389.6 939,386.8 943.1,384 948.3,380.6 953.4,377.1 958.6,373.7 962.9,372.5 967.2,371.3 971.5,370.1 975.8,368.9 980.1,367.7 984.4,366.4 989.6,365 994.8,363.5 1000,362 1004.2,361 1008.3,360 1012.5,359 1016.6,358.1 1020.8,357.1 1024.9,356.1 1029.1,355.1 1033.3,354.1 1037.4,353.1 1041.6,352.2 1045.7,351.2 1049.9,350.2 1054,349.2 1058.2,348.2 1062.5,346.9 1066.7,345.6 1071,344.3 1075.2,343 1079.5,341.7 1083.7,340.4 1088,339.1 1092.2,337.8 1096.5,336.5 1100.7,335.2 1105,333.9 1109.2,332.6 1113.5,331.3 1115.5,330.2 1119.6,328.9 1123.7,327.5 1127.8,326.2 1131.8,324.9 1135.9,323.5 1140,322.2 1144.4,320.7 1148.7,319.2 1153.1,317.6 1157.5,316.1 1161.9,314.6 1166.2,313.1 1170.6,311.6 1178,310.8 1178,312.2 1170.6,315.8 1166.2,317.6 1161.9,319.4 1157.5,321.2 1153.1,323 1148.7,324.8 1144.4,326.6 1140,328.4 1135.9,330 1131.8,331.6 1127.8,333.2 1123.7,334.9 1119.6,336.5 1115.5,338.1 1113.5,339.4 1109.2,340.7 1105,341.9 1100.7,343.2 1096.5,344.5 1092.2,345.7 1088,347 1083.7,348.3 1079.5,349.5 1075.2,350.8 1071,352.1 1066.7,353.3 1062.5,354.6 1058.2,355.9 1054,356.8 1049.9,357.7 1045.7,358.7 1041.6,359.6 1037.4,360.5 1033.3,361.5 1029.1,362.4 1024.9,363.3 1020.8,364.3 1016.6,365.2 1012.5,366.1 1008.3,367 1004.2,368 1000,368.9 994.8,370.8 989.6,372.7 984.4,374.6 980.1,375.8 975.8,377 971.5,378.2 967.2,379.4 962.9,380.6 958.6,381.8 953.4,385.6 948.3,389.3 943.1,393.1 939,396 934.8,398.9 930.7,401.8 926.5,404.6 922.4,407.5 918.3,410.4 914.1,413.3 910,416.2 905.8,419.1 901.7,422 897.6,425 893.4,428.1 889.3,431.2 885.1,434.3 881,437.3 876.9,440.4 872.7,443.5 868.6,446.6 864.4,449.7 860.3,452.7 855.8,455.9 851.3,459.1 846.8,462.3 842.3,465.5 837.8,468.7 833.5,472.6 829.2,476.5 825,480.3 820.7,484.2 816.4,488.1 812.1,491.5 807.9,494.8 803.6,498.1 799.4,501.5 795.1,504.8 790.8,508.2 786.6,511.5 782.3,514.8 778.1,518.2 773.8,521.5 769.6,525.8 765.5,530 761.3,534.3 757.2,538.5 753,542.8 748.6,546.2 744.2,549.7 739.9,553.2 735.5,556.6 731.1,560.1 726.8,563.3 722.6,566.6 718.3,569.8 714.1,573.1 709.8,576.3 705,579.4 700.1,582.4 695.3,585.4 690.5,588.5 689,593.3 684.4,595.6 679.8,598 675.2,600.3 670.6,602.6 666,604.9 661.7,607.1 657.3,609.4 653,611.6 648.7,613.9 644.3,616.1 640,618.3 636,620.2 632,622.1 628,624 624,625.8 620,627.7 616,629.6 612,631.5 608,633.3 603.8,635.6 599.6,637.8 595.3,640 591.1,642.2 586.9,644.4 582.7,646.6 578.4,648.8 574.2,651 570,653.3 566,655.2 562,657.2 558,659.2 554,661.2 550,663.2 546,665.2 542,667.2 538,669.2 534,671.2 530,673.2 526,675.1 522,676.9 518,678.8 514,680.7 510,682.6 506,684.5 502,686.4 498,688.3 494,690.2 490,692.1 485.9,694.1 481.8,696.2 477.7,698.3 473.6,700.3 469.5,702.4 465.4,704.5 461.3,706.5 457.2,708.6 453.1,710.7 449,712.7 445,714.7 440.9,716.7 436.9,718.7 432.8,720.7 428.8,722.6 424.7,724.6 420.7,726.6 416.6,728.6 412.6,730.6 408.5,732.5 404.5,734.5 400.5,736.5 396.4,738.5 392.4,740.5 388.3,742.5 384.3,744.4 380.2,746.4 376.2,748.4 372.1,750.4 368.1,752.4 364,754.4 360,756.3 356,758.3 352,760.3 348,762.2 344,764.2 340,766.1 336,768.1 332,770 328,772 324,774 320,775.9 316,777.9 312,779.8 308,781.8 304,783.8 300,785.7 295.7,787.8 291.4,789.8 287.1,791.9 282.9,793.9 278.6,796 274.3,798.1 270,800.1 266,801.9 262,803.8 258,805.6 254,807.4 250,809.2 245.3,810.9 240.7,812.7 236,814.4 229.1,816.4" fill="#000" fill-opacity="0.191"/>
<polygon points="229.1,816.4 236,810.7 240.7,807.5 245.3,804.4 250,801.3 254,798.8 258,796.4 262,793.9 266,791.4 270,789 274.3,786.6 278.6,784.2 282.9,781.8 287.1,779.4 291.4,777 295.7,774.6 300,772.2 304,770 308,767.7 312,765.4 316,763.2 320,760.9 324,758.6 328,756.4 332,754.1 336,751.8 340,749.6 344,747.3 348,745.1 352,742.8 356,740.5 360,738.3 364,736 368.1,733.8 372.1,731.6 376.2,729.4 380.2,727.2 384.3,725 388.3,722.8 392.4,720.6 396.4,718.4 400.5,716.2 404.5,714 408.5,711.8 412.6,709.6 416.6,707.3 420.7,705.1 424.7,702.9 428.8,700.7 432.8,698.5 436.9,696.3 440.9,694.1 445,691.9 449,689.7 453.1,687.7 457.2,685.7 461.3,683.7 465.4,681.7 469.5,679.7 473.6,677.7 477.7,675.7 481.8,673.7 485.9,671.7 490,669.7 494,667.8 498,665.9 502,663.9 506,662 510,660.1 514,658.2 518,656.2 522,654.3 526,652.4 530,650.5 534,648.4 538,646.3 542,644.2 546,642.1 550,640 554,637.9 558,635.9 562,633.8 566,631.7 570,629.6 574.2,627.6 578.4,625.6 582.7,623.6 586.9,621.6 591.1,619.6 595.3,617.6 599.6,615.7 603.8,613.7 608,611.7 612,609.6 616,607.5 620,605.4 624,603.3 628,601.2 632,599.1 636,597 640,595 644.3,592.6 648.7,590.2 653,587.8 657.3,585.5 661.7,583.1 666,580.7 670.6,578.2 675.2,575.8 679.8,573.3 684.4,570.8 689,568.3 690.5,564 695.3,560.6 700.1,557.3 705,553.9 709.8,550.6 714.1,547.7 718.3,544.8 722.6,542 726.8,539.1 731.1,536.2 735.5,533 739.9,529.8 744.2,526.6 748.6,523.4 753,520.2 757.2,516.2 761.3,512.2 765.5,508.1 769.6,504.1 773.8,500.1 778.1,497.3 782.3,494.5 786.6,491.8 790.8,489 795.1,486.3 799.4,483.5 803.6,480.7 807.9,478 812.1,475.2 816.4,472.4 820.7,469.2 825,466 829.2,462.7 833.5,459.5 837.8,456.3 842.3,453.5 846.8,450.8 851.3,448 855.8,445.3 860.3,442.5 864.4,439.5 868.6,436.5 872.7,433.5 876.9,430.5 881,427.5 885.1,424.5 889.3,421.5 893.4,418.5 897.6,415.5 901.7,412.5 905.8,409.7 910,406.9 914.1,404.2 918.3,401.4 922.4,398.6 926.5,395.8 930.7,393 934.8,390.2 939,387.5 943.1,384.7 948.3,381.2 953.4,377.8 958.6,374.3 962.9,373.1 967.2,371.9 971.5,370.7 975.8,369.5 980.1,368.2 984.4,367 989.6,365.5 994.8,364.1 1000,362.6 1004.2,361.6 1008.3,360.6 1012.5,359.6 1016.6,358.7 1020.8,357.7 1024.9,356.7 1029.1,355.7 1033.3,354.8 1037.4,353.8 1041.6,352.8 1045.7,351.8 1049.9,350.9 1054,349.9 1058.2,348.9 1062.5,347.6 1066.7,346.3 1071,345 1075.2,343.7 1079.5,342.4 1083.7,341.1 1088,339.9 1092.2,338.6 1096.5,337.3 1100.7,336 1105,334.7 1109.2,333.4 1113.5,332.1 1115.5,330.9 1119.6,329.5 1123.7,328.2 1127.8,326.8 1131.8,325.5 1135.9,324.1 1140,322.7 1144.4,321.2 1148.7,319.6 1153.1,318.1 1157.5,316.6 1161.9,315 1166.2,313.5 1170.6,312 1178,310.9 1178,312.1 1170.6,315.6 1166.2,317.3 1161.9,319.1 1157.5,320.9 1153.1,322.7 1148.7,324.5 1144.4,326.3 1140,328 1135.9,329.6 1131.8,331.2 1127.8,332.9 1123.7,334.5 1119.6,336.1 1115.5,337.7 1113.5,339 1109.2,340.3 1105,341.6 1100.7,342.8 1096.5,344.1 1092.2,345.4 1088,346.6 1083.7,347.9 1079.5,349.1 1075.2,350.4 1071,351.7 1066.7,352.9 1062.5,354.2 1058.2,355.5 1054,356.4 1049.9,357.3 1045.7,358.2 1041.6,359.2 1037.4,360.1 1033.3,361 1029.1,362 1024.9,362.9 1020.8,363.8 1016.6,364.8 1012.5,365.7 1008.3,366.6 1004.2,367.6 1000,368.5 994.8,370.3 989.6,372.1 984.4,374 980.1,375.2 975.8,376.4 971.5,377.6 967.2,378.8 962.9,380.1 958.6,381.3 953.4,385 948.3,388.7 943.1,392.4 939,395.3 934.8,398.2 930.7,401.1 926.5,404 922.4,406.8 918.3,409.7 914.1,412.6 910,415.5 905.8,418.4 901.7,421.3 897.6,424.3 893.4,427.4 889.3,430.5 885.1,433.5 881,436.6 876.9,439.6 872.7,442.7 868.6,445.8 864.4,448.8 860.3,451.9 855.8,455.1 851.3,458.2 846.8,461.4 842.3,464.6 837.8,467.7 833.5,471.6 829.2,475.4 825,479.3 820.7,483.1 816.4,487 812.1,490.3 807.9,493.6 803.6,496.9 799.4,500.2 795.1,503.5 790.8,506.8 786.6,510.1 782.3,513.4 778.1,516.7 773.8,520 769.6,524.4 765.5,528.8 761.3,533.2 757.2,537.6 753,541.9 748.6,545.4 744.2,548.8 739.9,552.3 735.5,555.7 731.1,559.2 726.8,562.4 722.6,565.6 718.3,568.8 714.1,572 709.8,575.3 705,578.4 700.1,581.5 695.3,584.6 690.5,587.7 689,592.9 684.4,595.2 679.8,597.5 675.2,599.8 670.6,602.1 666,604.5 661.7,606.7 657.3,608.9 653,611.2 648.7,613.4 644.3,615.6 640,617.9 636,619.7 632,621.6 628,623.5 624,625.4 620,627.2 616,629.1 612,631 608,632.9 603.8,635 599.6,637.2 595.3,639.4 591.1,641.6 586.9,643.8 582.7,646 578.4,648.1 574.2,650.3 570,652.5 566,654.5 562,656.4 558,658.4 554,660.4 550,662.3 546,664.3 542,666.2 538,668.2 534,670.2 530,672.1 526,674 522,675.9 518,677.7 514,679.6 510,681.5 506,683.3 502,685.2 498,687 494,688.9 490,690.8 485.9,692.8 481.8,694.8 477.7,696.9 473.6,698.9 469.5,700.9 465.4,703 461.3,705 457.2,707 453.1,709.1 449,711.1 445,713.1 440.9,715.1 436.9,717.1 432.8,719.1 428.8,721.1 424.7,723.1 420.7,725.1 416.6,727.1 412.6,729.1 408.5,731.1 404.5,733.1 400.5,735.1 396.4,737.1 392.4,739.1 388.3,741.1 384.3,743.1 380.2,745.1 376.2,747.1 372.1,749.1 368.1,751.1 364,753.1 360,755.1 356,757.1 352,759 348,761 344,763 340,765 336,767 332,769 328,770.9 324,772.9 320,774.9 316,776.9 312,778.9 308,780.9 304,782.9 300,784.8 295.7,786.9 291.4,789 287.1,791.1 282.9,793.2 278.6,795.2 274.3,797.3 270,799.4 266,801.3 262,803.1 258,805 254,806.8 250,808.7 245.3,810.5 240.7,812.3 236,814.1 229.1,816.4" fill="#000" fill-opacity="0.236"/>
<polygon points="229.1,816.4 236,811 240.7,808 245.3,805.1 250,802.1 254,799.7 258,797.3 262,795 266,792.6 270,790.2 274.3,787.8 278.6,785.5 282.9,783.1 287.1,780.8 291.4,778.4 295.7,776 300,773.7 304,771.4 308,769.2 312,767 316,764.7 320,762.5 324,760.2 328,758 332,755.8 336,753.5 340,751.3 344,749 348,746.8 352,744.6 356,742.3 360,740.1 364,737.9 368.1,735.7 372.1,733.5 376.2,731.3 380.2,729.1 384.3,727 388.3,724.8 392.4,722.6 396.4,720.4 400.5,718.2 404.5,716 408.5,713.8 412.6,711.7 416.6,709.5 420.7,707.3 424.7,705.1 428.8,702.9 432.8,700.7 436.9,698.6 440.9,696.4 445,694.2 449,692 453.1,690 457.2,688.1 461.3,686.1 465.4,684.1 469.5,682.2 473.6,680.2 477.7,678.2 481.8,676.2 485.9,674.3 490,672.3 494,670.4 498,668.6 502,666.7 506,664.8 510,662.9 514,661 518,659.1 522,657.3 526,655.4 530,653.5 534,651.5 538,649.4 542,647.4 546,645.4 550,643.4 554,641.3 558,639.3 562,637.3 566,635.2 570,633.2 574.2,631.2 578.4,629.2 582.7,627.2 586.9,625.2 591.1,623.2 595.3,621.2 599.6,619.3 603.8,617.3 608,615.3 612,613.2 616,611.2 620,609.1 624,607.1 628,605 632,603 636,600.9 640,598.9 644.3,596.6 648.7,594.2 653,591.9 657.3,589.6 661.7,587.2 666,584.9 670.6,582.4 675.2,580 679.8,577.5 684.4,575 689,572.6 690.5,567.7 695.3,564.3 700.1,561 705,557.6 709.8,554.2 714.1,551.3 718.3,548.4 722.6,545.5 726.8,542.6 731.1,539.7 735.5,536.5 739.9,533.2 744.2,530 748.6,526.8 753,523.5 757.2,519.3 761.3,515 765.5,510.7 769.6,506.5 773.8,502.2 778.1,499.4 782.3,496.6 786.6,493.7 790.8,490.9 795.1,488.1 799.4,485.2 803.6,482.4 807.9,479.6 812.1,476.7 816.4,473.9 820.7,470.6 825,467.3 829.2,464 833.5,460.7 837.8,457.4 842.3,454.6 846.8,451.8 851.3,449 855.8,446.2 860.3,443.4 864.4,440.4 868.6,437.4 872.7,434.4 876.9,431.4 881,428.4 885.1,425.4 889.3,422.4 893.4,419.4 897.6,416.4 901.7,413.4 905.8,410.6 910,407.8 914.1,405 918.3,402.2 922.4,399.4 926.5,396.6 930.7,393.8 934.8,391 939,388.2 943.1,385.4 948.3,382 953.4,378.5 958.6,375 962.9,373.8 967.2,372.6 971.5,371.4 975.8,370.2 980.1,368.9 984.4,367.7 989.6,366.2 994.8,364.7 1000,363.2 1004.2,362.3 1008.3,361.3 1012.5,360.3 1016.6,359.4 1020.8,358.4 1024.9,357.4 1029.1,356.5 1033.3,355.5 1037.4,354.5 1041.6,353.6 1045.7,352.6 1049.9,351.6 1054,350.7 1058.2,349.7 1062.5,348.4 1066.7,347.1 1071,345.9 1075.2,344.6 1079.5,343.3 1083.7,342 1088,340.7 1092.2,339.5 1096.5,338.2 1100.7,336.9 1105,335.6 1109.2,334.3 1113.5,333.1 1115.5,331.7 1119.6,330.3 1123.7,328.9 1127.8,327.5 1131.8,326.2 1135.9,324.8 1140,323.4 1144.4,321.8 1148.7,320.2 1153.1,318.6 1157.5,317.1 1161.9,315.5 1166.2,313.9 1170.6,312.4 1178,311 1178,312 1170.6,315.2 1166.2,317 1161.9,318.8 1157.5,320.6 1153.1,322.3 1148.7,324.1 1144.4,325.9 1140,327.6 1135.9,329.2 1131.8,330.8 1127.8,332.4 1123.7,334 1119.6,335.6 1115.5,337.1 1113.5,338.6 1109.2,339.9 1105,341.2 1100.7,342.4 1096.5,343.7 1092.2,344.9 1088,346.2 1083.7,347.4 1079.5,348.7 1075.2,349.9 1071,351.2 1066.7,352.5 1062.5,353.7 1058.2,355 1054,355.9 1049.9,356.8 1045.7,357.8 1041.6,358.7 1037.4,359.6 1033.3,360.6 1029.1,361.5 1024.9,362.4 1020.8,363.4 1016.6,364.3 1012.5,365.2 1008.3,366.1 1004.2,367.1 1000,368 994.8,369.8 989.6,371.5 984.4,373.3 980.1,374.5 975.8,375.7 971.5,377 967.2,378.2 962.9,379.4 958.6,380.6 953.4,384.3 948.3,388 943.1,391.7 939,394.6 934.8,397.4 930.7,400.3 926.5,403.2 922.4,406.1 918.3,408.9 914.1,411.8 910,414.7 905.8,417.5 901.7,420.4 897.6,423.5 893.4,426.5 889.3,429.6 885.1,432.6 881,435.7 876.9,438.7 872.7,441.8 868.6,444.8 864.4,447.9 860.3,450.9 855.8,454.1 851.3,457.2 846.8,460.3 842.3,463.5 837.8,466.6 833.5,470.4 829.2,474.2 825,478 820.7,481.8 816.4,485.6 812.1,488.9 807.9,492.1 803.6,495.4 799.4,498.6 795.1,501.9 790.8,505.2 786.6,508.4 782.3,511.7 778.1,515 773.8,518.2 769.6,522.8 765.5,527.3 761.3,531.9 757.2,536.4 753,541 748.6,544.4 744.2,547.9 739.9,551.3 735.5,554.7 731.1,558.2 726.8,561.3 722.6,564.5 718.3,567.7 714.1,570.9 709.8,574 705,577.2 700.1,580.4 695.3,583.6 690.5,586.8 689,592.3 684.4,594.6 679.8,597 675.2,599.3 670.6,601.6 666,604 661.7,606.2 657.3,608.4 653,610.6 648.7,612.9 644.3,615.1 640,617.3 636,619.2 632,621.1 628,622.9 624,624.8 620,626.7 616,628.6 612,630.4 608,632.3 603.8,634.4 599.6,636.6 595.3,638.7 591.1,640.9 586.9,643 582.7,645.2 578.4,647.3 574.2,649.5 570,651.6 566,653.5 562,655.5 558,657.4 554,659.3 550,661.3 546,663.2 542,665.1 538,667.1 534,669 530,670.9 526,672.8 522,674.6 518,676.4 514,678.3 510,680.1 506,681.9 502,683.8 498,685.6 494,687.4 490,689.2 485.9,691.2 481.8,693.2 477.7,695.2 473.6,697.2 469.5,699.2 465.4,701.2 461.3,703.2 457.2,705.2 453.1,707.2 449,709.2 445,711.2 440.9,713.3 436.9,715.3 432.8,717.3 428.8,719.3 424.7,721.3 420.7,723.3 416.6,725.4 412.6,727.4 408.5,729.4 404.5,731.4 400.5,733.4 396.4,735.4 392.4,737.5 388.3,739.5 384.3,741.5 380.2,743.5 376.2,745.5 372.1,747.5 368.1,749.6 364,751.6 360,753.6 356,755.6 352,757.6 348,759.6 344,761.6 340,763.7 336,765.7 332,767.7 328,769.7 324,771.7 320,773.7 316,775.7 312,777.8 308,779.8 304,781.8 300,783.8 295.7,785.9 291.4,788 287.1,790.1 282.9,792.3 278.6,794.4 274.3,796.5 270,798.6 266,800.5 262,802.4 258,804.2 254,806.1 250,808 245.3,809.9 240.7,811.9 236,813.8 229.1,816.4" fill="#000" fill-opacity="0.309"/>
<polygon points="229.1,816.4 236,811.5 240.7,808.7 245.3,806 250,803.2 254,800.9 258,798.7 262,796.4 266,794.1 270,791.9 274.3,789.6 278.6,787.3 282.9,784.9 287.1,782.6 291.4,780.3 295.7,778 300,775.7 304,773.5 308,771.3 312,769.1 316,766.9 320,764.7 324,762.4 328,760.2 332,758 336,755.8 340,753.6 344,751.4 348,749.2 352,747 356,744.8 360,742.6 364,740.4 368.1,738.3 372.1,736.1 376.2,734 380.2,731.8 384.3,729.7 388.3,727.5 392.4,725.4 396.4,723.2 400.5,721.1 404.5,718.9 408.5,716.7 412.6,714.6 416.6,712.4 420.7,710.3 424.7,708.1 428.8,706 432.8,703.8 436.9,701.7 440.9,699.5 445,697.4 449,695.2 453.1,693.3 457.2,691.4 461.3,689.4 465.4,687.5 469.5,685.6 473.6,683.6 477.7,681.7 481.8,679.8 485.9,677.9 490,675.9 494,674.1 498,672.3 502,670.5 506,668.7 510,666.8 514,665 518,663.2 522,661.4 526,659.6 530,657.7 534,655.8 538,653.8 542,651.9 546,649.9 550,648 554,646 558,644.1 562,642.1 566,640.2 570,638.2 574.2,636.2 578.4,634.2 582.7,632.2 586.9,630.2 591.1,628.2 595.3,626.2 599.6,624.2 603.8,622.2 608,620.3 612,618.3 616,616.3 620,614.3 624,612.3 628,610.3 632,608.3 636,606.3 640,604.3 644.3,602.1 648.7,599.8 653,597.5 657.3,595.2 661.7,593 666,590.7 670.6,588.2 675.2,585.8 679.8,583.4 684.4,580.9 689,578.5 690.5,572.9 695.3,569.5 700.1,566 705,562.6 709.8,559.2 714.1,556.3 718.3,553.3 722.6,550.4 726.8,547.5 731.1,544.5 735.5,541.2 739.9,538 744.2,534.7 748.6,531.4 753,528.1 757.2,523.5 761.3,518.9 765.5,514.3 769.6,509.8 773.8,505.2 778.1,502.3 782.3,499.3 786.6,496.4 790.8,493.5 795.1,490.6 799.4,487.7 803.6,484.7 807.9,481.8 812.1,478.9 816.4,476 820.7,472.6 825,469.2 829.2,465.8 833.5,462.4 837.8,459 842.3,456.1 846.8,453.2 851.3,450.3 855.8,447.5 860.3,444.6 864.4,441.6 868.6,438.6 872.7,435.6 876.9,432.6 881,429.6 885.1,426.6 889.3,423.6 893.4,420.6 897.6,417.6 901.7,414.6 905.8,411.8 910,409 914.1,406.2 918.3,403.4 922.4,400.6 926.5,397.7 930.7,394.9 934.8,392.1 939,389.3 943.1,386.5 948.3,383 953.4,379.5 958.6,376 962.9,374.8 967.2,373.6 971.5,372.3 975.8,371.1 980.1,369.9 984.4,368.7 989.6,367.2 994.8,365.7 1000,364.2 1004.2,363.2 1008.3,362.3 1012.5,361.3 1016.6,360.4 1020.8,359.4 1024.9,358.5 1029.1,357.5 1033.3,356.5 1037.4,355.6 1041.6,354.6 1045.7,353.7 1049.9,352.7 1054,351.8 1058.2,350.8 1062.5,349.6 1066.7,348.3 1071,347 1075.2,345.8 1079.5,344.5 1083.7,343.2 1088,342 1092.2,340.7 1096.5,339.4 1100.7,338.2 1105,336.9 1109.2,335.7 1113.5,334.4 1115.5,332.8 1119.6,331.4 1123.7,330 1127.8,328.5 1131.8,327.1 1135.9,325.7 1140,324.3 1144.4,322.6 1148.7,321 1153.1,319.4 1157.5,317.8 1161.9,316.2 1166.2,314.5 1170.6,312.9 1178,311.2 1178,311.8 1170.6,314.8 1166.2,316.6 1161.9,318.3 1157.5,320.1 1153.1,321.8 1148.7,323.6 1144.4,325.3 1140,327.1 1135.9,328.6 1131.8,330.2 1127.8,331.8 1123.7,333.3 1119.6,334.9 1115.5,336.4 1113.5,338.1 1109.2,339.3 1105,340.6 1100.7,341.8 1096.5,343.1 1092.2,344.3 1088,345.6 1083.7,346.8 1079.5,348.1 1075.2,349.3 1071,350.6 1066.7,351.8 1062.5,353.1 1058.2,354.3 1054,355.2 1049.9,356.2 1045.7,357.1 1041.6,358 1037.4,359 1033.3,359.9 1029.1,360.8 1024.9,361.7 1020.8,362.7 1016.6,363.6 1012.5,364.5 1008.3,365.5 1004.2,366.4 1000,367.3 994.8,369 989.6,370.7 984.4,372.3 980.1,373.6 975.8,374.8 971.5,376 967.2,377.3 962.9,378.5 958.6,379.7 953.4,383.4 948.3,387 943.1,390.6 939,393.5 934.8,396.4 930.7,399.2 926.5,402.1 922.4,405 918.3,407.8 914.1,410.7 910,413.5 905.8,416.4 901.7,419.3 897.6,422.3 893.4,425.3 889.3,428.4 885.1,431.4 881,434.4 876.9,437.5 872.7,440.5 868.6,443.5 864.4,446.6 860.3,449.6 855.8,452.7 851.3,455.8 846.8,458.9 842.3,462 837.8,465 833.5,468.8 829.2,472.5 825,476.2 820.7,480 816.4,483.7 812.1,486.9 807.9,490.1 803.6,493.3 799.4,496.5 795.1,499.7 790.8,503 786.6,506.2 782.3,509.4 778.1,512.6 773.8,515.8 769.6,520.6 765.5,525.3 761.3,530.1 757.2,534.9 753,539.6 748.6,543.1 744.2,546.5 739.9,549.9 735.5,553.3 731.1,556.8 726.8,559.9 722.6,563 718.3,566.1 714.1,569.2 709.8,572.3 705,575.6 700.1,578.9 695.3,582.2 690.5,585.5 689,591.5 684.4,593.9 679.8,596.2 675.2,598.6 670.6,600.9 666,603.3 661.7,605.5 657.3,607.7 653,609.9 648.7,612.1 644.3,614.3 640,616.5 636,618.4 632,620.3 628,622.1 624,624 620,625.9 616,627.8 612,629.6 608,631.5 603.8,633.6 599.6,635.7 595.3,637.8 591.1,639.9 586.9,642 582.7,644.1 578.4,646.2 574.2,648.3 570,650.4 566,652.3 562,654.2 558,656.1 554,657.9 550,659.8 546,661.7 542,663.6 538,665.5 534,667.4 530,669.3 526,671.1 522,672.8 518,674.6 514,676.4 510,678.2 506,680 502,681.8 498,683.6 494,685.3 490,687.1 485.9,689.1 481.8,691 477.7,693 473.6,694.9 469.5,696.9 465.4,698.8 461.3,700.8 457.2,702.7 453.1,704.7 449,706.6 445,708.7 440.9,710.7 436.9,712.7 432.8,714.8 428.8,716.8 424.7,718.9 420.7,720.9 416.6,722.9 412.6,725 408.5,727 404.5,729.1 400.5,731.1 396.4,733.2 392.4,735.2 388.3,737.2 384.3,739.3 380.2,741.3 376.2,743.4 372.1,745.4 368.1,747.4 364,749.5 360,751.5 356,753.6 352,755.6 348,757.7 344,759.8 340,761.8 336,763.9 332,765.9 328,768 324,770 320,772.1 316,774.2 312,776.2 308,778.3 304,780.3 300,782.4 295.7,784.5 291.4,786.7 287.1,788.8 282.9,791 278.6,793.1 274.3,795.3 270,797.4 266,799.4 262,801.3 258,803.2 254,805.2 250,807.1 245.3,809.2 240.7,811.3 236,813.4 229.1,816.4" fill="#000" fill-opacity="0.422"/>
<polygon points="967.2,364.7 971.5,363.5 975.8,362.3 980.1,361.2 984.4,360 989.6,358.5 994.8,357.1 1000,355.6 1004.2,354.6 1008.3,353.5 1012.5,352.5 1016.6,351.4 1020.8,350.4 1024.9,349.3 1029.1,348.3 1033.3,347.3 1037.4,346.2 1041.6,345.2 1045.7,344.1 1049.9,343.1 1054,342 1058.2,341 1062.5,339.6 1066.7,338.2 1071,336.8 1075.2,335.5 1079.5,334.1 1083.7,332.7 1088,331.3 1092.2,329.9 1096.5,328.5 1100.7,327.2 1105,325.8 1109.2,324.4 1113.5,323 1113.5,337.5 1109.2,338.7 1105,340 1100.7,341.2 1096.5,342.4 1092.2,343.7 1088,344.9 1083.7,346.1 1079.5,347.3 1075.2,348.6 1071,349.8 1066.7,351 1062.5,352.3 1058.2,353.5 1054,354.4 1049.9,355.4 1045.7,356.3 1041.6,357.2 1037.4,358.1 1033.3,359.1 1029.1,360 1024.9,360.9 1020.8,361.9 1016.6,362.8 1012.5,363.7 1008.3,364.6 1004.2,365.6 1000,366.5 994.8,368 989.6,369.5 984.4,371 980.1,372.2 975.8,373.5 971.5,374.8 967.2,376" fill="#fff" fill-opacity="0.26"/>
<polygon points="967.2,376 971.5,374.8 975.8,373.5 980.1,372.2 984.4,371 989.6,369.5 994.8,368 1000,366.5 1004.2,365.6 1008.3,364.6 1012.5,363.7 1016.6,362.8 1020.8,361.9 1024.9,360.9 1029.1,360 1033.3,359.1 1037.4,358.1 1041.6,357.2 1045.7,356.3 1049.9,355.4 1054,354.4 1058.2,353.5 1062.5,352.3 1066.7,351 1071,349.8 1075.2,348.6 1079.5,347.3 1083.7,346.1 1088,344.9 1092.2,343.7 1096.5,342.4 1100.7,341.2 1105,340 1109.2,338.7 1113.5,337.5 1113.5,344 1109.2,345.3 1105,346.6 1100.7,347.9 1096.5,349.2 1092.2,350.5 1088,351.8 1083.7,353.2 1079.5,354.5 1075.2,355.8 1071,357.1 1066.7,358.4 1062.5,359.7 1058.2,361 1054,361.9 1049.9,362.9 1045.7,363.8 1041.6,364.7 1037.4,365.7 1033.3,366.6 1029.1,367.6 1024.9,368.5 1020.8,369.4 1016.6,370.4 1012.5,371.3 1008.3,372.2 1004.2,373.2 1000,374.1 994.8,376.4 989.6,378.7 984.4,381 980.1,382.2 975.8,383.3 971.5,384.5 967.2,385.7" fill="#fff" fill-opacity="0.06"/>
<polygon points="1113.5,323 1115.5,323 1119.6,321.8 1123.7,320.7 1127.8,319.5 1131.8,318.3 1135.9,317.2 1140,316 1144.4,314.7 1148.7,313.4 1153.1,312.1 1157.5,310.9 1161.9,309.6 1166.2,308.3 1170.6,307 1178,308 1178,315 1170.6,319.8 1166.2,321.7 1161.9,323.6 1157.5,325.5 1153.1,327.3 1148.7,329.2 1144.4,331.1 1140,333 1135.9,334.7 1131.8,336.5 1127.8,338.2 1123.7,340 1119.6,341.8 1115.5,343.5 1113.5,344" fill="#fff" fill-opacity="0.18"/>
<polyline points="229.1,816.4 236,808 240.7,803.8 245.3,799.7 250,795.5 254,792.4 258,789.3 262,786.2 266,783.1 270,780 274.3,777.4 278.6,774.7 282.9,772.1 287.1,769.5 291.4,766.9 295.7,764.2 300,761.6 304,759.2 308,756.7 312,754.3 316,751.8 320,749.4 324,746.9 328,744.5 332,742 336,739.6 340,737.1 344,734.7 348,732.2 352,729.8 356,727.3 360,724.9 364,722.5 368.1,720.1 372.1,717.8 376.2,715.4 380.2,713 384.3,710.6 388.3,708.3 392.4,705.9 396.4,703.5 400.5,701.1 404.5,698.8 408.5,696.4 412.6,694 416.6,691.6 420.7,689.2 424.7,686.9 428.8,684.5 432.8,682.1 436.9,679.7 440.9,677.4 445,675 449,672.6 453.1,670.4 457.2,668.2 461.3,666 465.4,663.8 469.5,661.5 473.6,659.3 477.7,657.1 481.8,654.9 485.9,652.7 490,650.5 494,648.2 498,646 502,643.8 506,641.5 510,639.2 514,637 518,634.8 522,632.5 526,630.2 530,628 534,625.5 538,623 542,620.5 546,618 550,615.5 554,613 558,610.5 562,608 566,605.5 570,603 574.2,601 578.4,599 582.7,597.1 586.9,595.1 591.1,593.1 595.3,591.1 599.6,589.2 603.8,587.2 608,585.2 612,582.8 616,580.4 620,578 624,575.6 628,573.2 632,570.8 636,568.4 640,566 644.3,563.3 648.7,560.7 653,558 657.3,555.3 661.7,552.7 666,550 670.6,547.4 675.2,544.8 679.8,542.2 684.4,539.6 689,537 690.5,536.5 695.3,533.4 700.1,530.2 705,527.1 709.8,524 714.1,521.3 718.3,518.6 722.6,515.9 726.8,513.2 731.1,510.5 735.5,507.6 739.9,504.7 744.2,501.8 748.6,498.9 753,496 757.2,493.7 761.3,491.3 765.5,489 769.6,486.6 773.8,484.3 778.1,482 782.3,479.7 786.6,477.5 790.8,475.2 795.1,472.9 799.4,470.6 803.6,468.3 807.9,466.1 812.1,463.8 816.4,461.5 820.7,458.8 825,456.1 829.2,453.4 833.5,450.7 837.8,448 842.3,445.6 846.8,443.2 851.3,440.8 855.8,438.4 860.3,436 864.4,433 868.6,430 872.7,427 876.9,424 881,421 885.1,418 889.3,415 893.4,412 897.6,409 901.7,406 905.8,403.3 910,400.6 914.1,397.9 918.3,395.2 922.4,392.5 926.5,389.8 930.7,387.1 934.8,384.4 939,381.7 943.1,379 948.3,375.7 953.4,372.3 958.6,369 962.9,367.8 967.2,366.7 971.5,365.5 975.8,364.3 980.1,363.2 984.4,362 989.6,360.5 994.8,359.1 1000,357.6 1004.2,356.6 1008.3,355.5 1012.5,354.5 1016.6,353.4 1020.8,352.4 1024.9,351.3 1029.1,350.3 1033.3,349.3 1037.4,348.2 1041.6,347.2 1045.7,346.1 1049.9,345.1 1054,344 1058.2,343 1062.5,341.6 1066.7,340.2 1071,338.8 1075.2,337.5 1079.5,336.1 1083.7,334.7 1088,333.3 1092.2,331.9 1096.5,330.5 1100.7,329.2 1105,327.8 1109.2,326.4 1113.5,325 1115.5,325 1119.6,323.8 1123.7,322.7 1127.8,321.5 1131.8,320.3 1135.9,319.2 1140,318 1144.4,316.7 1148.7,315.4 1153.1,314.1 1157.5,312.9 1161.9,311.6 1166.2,310.3 1170.6,309 1178,310" fill="none" stroke="#808080" stroke-width="1.7" stroke-linecap="round" stroke-dasharray="0 4.3"/>
<polyline points="229.1,816.4 236,816.5 240.7,815.5 245.3,814.5 250,813.5 254,811.9 258,810.3 262,808.7 266,807.1 270,805.5 274.3,803.6 278.6,801.8 282.9,799.9 287.1,798 291.4,796.1 295.7,794.3 300,792.4 304,790.6 308,788.9 312,787.1 316,785.4 320,783.6 324,781.8 328,780.1 332,778.3 336,776.6 340,774.8 344,773 348,771.3 352,769.5 356,767.8 360,766 364,764.1 368.1,762.3 372.1,760.4 376.2,758.5 380.2,756.7 384.3,754.8 388.3,753 392.4,751.1 396.4,749.2 400.5,747.4 404.5,745.5 408.5,743.6 412.6,741.8 416.6,739.9 420.7,738 424.7,736.2 428.8,734.3 432.8,732.5 436.9,730.6 440.9,728.7 445,726.9 449,725 453.1,722.7 457.2,720.4 461.3,718.1 465.4,715.8 469.5,713.5 473.6,711.2 477.7,708.9 481.8,706.6 485.9,704.3 490,702 494,699.9 498,697.8 502,695.7 506,693.6 510,691.5 514,689.4 518,687.3 522,685.2 526,683.1 530,681 534,678.8 538,676.6 542,674.4 546,672.2 550,670 554,667.8 558,665.6 562,663.4 566,661.2 570,659 574.2,656.6 578.4,654.1 582.7,651.7 586.9,649.2 591.1,646.8 595.3,644.3 599.6,641.9 603.8,639.4 608,637 612,635.1 616,633.2 620,631.4 624,629.5 628,627.6 632,625.8 636,623.9 640,622 644.3,619.7 648.7,617.3 653,615 657.3,612.7 661.7,610.3 666,608 670.6,605.8 675.2,603.6 679.8,601.4 684.4,599.2 689,597 690.5,594.5 695.3,591.9 700.1,589.4 705,586.9 709.8,584.3 714.1,580.8 718.3,577.3 722.6,573.7 726.8,570.2 731.1,566.7 735.5,563.2 739.9,559.7 744.2,556.1 748.6,552.6 753,549.1 757.2,545.9 761.3,542.7 765.5,539.4 769.6,536.2 773.8,533 778.1,529.4 782.3,525.8 786.6,522.2 790.8,518.6 795.1,515 799.4,511.4 803.6,507.8 807.9,504.2 812.1,500.6 816.4,497 820.7,492.8 825,488.6 829.2,484.4 833.5,480.2 837.8,476 842.3,472.6 846.8,469.2 851.3,465.8 855.8,462.4 860.3,459 864.4,455.8 868.6,452.7 872.7,449.5 876.9,446.4 881,443.2 885.1,440 889.3,436.9 893.4,433.7 897.6,430.6 901.7,427.4 905.8,424.5 910,421.5 914.1,418.6 918.3,415.6 922.4,412.7 926.5,409.8 930.7,406.8 934.8,403.9 939,400.9 943.1,398 948.3,394 953.4,390 958.6,386 962.9,384.8 967.2,383.7 971.5,382.5 975.8,381.3 980.1,380.2 984.4,379 989.6,376.7 994.8,374.4 1000,372.1 1004.2,371.2 1008.3,370.2 1012.5,369.3 1016.6,368.4 1020.8,367.4 1024.9,366.5 1029.1,365.6 1033.3,364.6 1037.4,363.7 1041.6,362.7 1045.7,361.8 1049.9,360.9 1054,359.9 1058.2,359 1062.5,357.7 1066.7,356.4 1071,355.1 1075.2,353.8 1079.5,352.5 1083.7,351.2 1088,349.8 1092.2,348.5 1096.5,347.2 1100.7,345.9 1105,344.6 1109.2,343.3 1113.5,342 1115.5,341.5 1119.6,339.8 1123.7,338 1127.8,336.2 1131.8,334.5 1135.9,332.7 1140,331 1144.4,329.1 1148.7,327.2 1153.1,325.3 1157.5,323.5 1161.9,321.6 1166.2,319.7 1170.6,317.8 1178,313" fill="none" stroke="#808080" stroke-width="1.7" stroke-linecap="round" stroke-dasharray="0 4.3"/>
<polyline points="229.1,816.4 236,812.6 240.7,810.2 245.3,807.9 250,805.5 254,803.5 258,801.4 262,799.4 266,797.3 270,795.3 274.3,793 278.6,790.7 282.9,788.4 287.1,786.1 291.4,783.8 295.7,781.5 300,779.2 304,777.1 308,774.9 312,772.8 316,770.6 320,768.5 324,766.3 328,764.2 332,762 336,759.9 340,757.7 344,755.6 348,753.4 352,751.3 356,749.1 360,747 364,744.9 368.1,742.8 372.1,740.7 376.2,738.6 380.2,736.5 384.3,734.5 388.3,732.4 392.4,730.3 396.4,728.2 400.5,726.1 404.5,724 408.5,721.9 412.6,719.8 416.6,717.7 420.7,715.6 424.7,713.5 428.8,711.5 432.8,709.4 436.9,707.3 440.9,705.2 445,703.1 449,701 453.1,698.9 457.2,696.7 461.3,694.5 465.4,692.4 469.5,690.2 473.6,688.1 477.7,686 481.8,683.8 485.9,681.6 490,679.5 494,677.4 498,675.2 502,673 506,670.9 510,668.8 514,666.6 518,664.5 522,662.3 526,660.1 530,658 534,655.9 538,653.8 542,651.7 546,649.6 550,647.5 554,645.4 558,643.3 562,641.2 566,639.1 570,637 574.2,634.7 578.4,632.4 582.7,630.1 586.9,627.8 591.1,625.5 595.3,623.2 599.6,620.9 603.8,618.6 608,616.3 612,614.3 616,612.2 620,610.2 624,608.1 628,606.1 632,604.1 636,602 640,600 644.3,597.7 648.7,595.3 653,593 657.3,590.7 661.7,588.3 666,586 670.6,583.5 675.2,581 679.8,578.4 684.4,575.9 689,573.4 690.5,572.7 695.3,568.6 700.1,564.6 705,560.6 709.8,556.5 714.1,553.2 718.3,549.9 722.6,546.6 726.8,543.3 731.1,540 735.5,536.7 739.9,533.4 744.2,530.1 748.6,526.8 753,523.5 757.2,520.4 761.3,517.3 765.5,514.2 769.6,511.1 773.8,508 778.1,505.1 782.3,502.1 786.6,499.2 790.8,496.2 795.1,493.3 799.4,490.3 803.6,487.3 807.9,484.4 812.1,481.4 816.4,478.5 820.7,475.1 825,471.7 829.2,468.2 833.5,464.8 837.8,461.4 842.3,458.5 846.8,455.6 851.3,452.8 855.8,449.9 860.3,447 864.4,444 868.6,441 872.7,438 876.9,435 881,432 885.1,429 889.3,426 893.4,423 897.6,420 901.7,417 905.8,414.2 910,411.3 914.1,408.5 918.3,405.6 922.4,402.8 926.5,400 930.7,397.1 934.8,394.3 939,391.4 943.1,388.6 948.3,385 953.4,381.3 958.6,377.7 962.9,376.5 967.2,375.3 971.5,374.1 975.8,372.9 980.1,371.7 984.4,370.5 989.6,368.8 994.8,367 1000,365.3 1004.2,364.3 1008.3,363.4 1012.5,362.4 1016.6,361.4 1020.8,360.4 1024.9,359.5 1029.1,358.5 1033.3,357.5 1037.4,356.6 1041.6,355.6 1045.7,354.6 1049.9,353.6 1054,352.7 1058.2,351.7 1062.5,350.4 1066.7,349.2 1071,347.9 1075.2,346.7 1079.5,345.4 1083.7,344.1 1088,342.9 1092.2,341.6 1096.5,340.3 1100.7,339.1 1105,337.8 1109.2,336.6 1113.5,335.3 1115.5,334.9 1119.6,333.3 1123.7,331.8 1127.8,330.2 1131.8,328.6 1135.9,327.1 1140,325.5 1144.4,323.8 1148.7,322.2 1153.1,320.5 1157.5,318.9 1161.9,317.2 1166.2,315.6 1170.6,313.9 1178,311.5 1213.3,305.2 1261.8,302.3" fill="none" stroke="#b81212" stroke-width="1.8" stroke-linecap="round" stroke-dasharray="0 4.6"/>
<polygon points="760.8,402.2 763.8,403.2 765.5,404.7 762.5,406.2 764.3,407.5 772.3,408.1 779.3,408.7 781.3,409.2 781.3,414.2 778.3,414.9 769.3,415.5 766.3,417.2 763.3,419.2 760.8,420 759.8,420 757.3,419.2 754.3,417.2 751.3,415.5 742.3,414.9 739.3,414.2 739.3,409.2 741.3,408.7 748.3,408.1 756.3,407.5 758.1,406.2 755.1,404.7 756.8,403.2 759.8,402.2" fill="#7b7bff" fill-opacity="0.55" stroke="#4444ff" stroke-opacity="0.8" stroke-width="1.6" stroke-linejoin="round"/>
<polygon points="960.9,361.9 963,363.2 964.9,364.6 973.4,365.4 981.1,366.1 981.1,370.3 972.4,371.1 966.4,372.2 963.4,374.2 960.9,375.4 959.9,375.4 957.4,374.2 954.4,372.2 948.4,371.1 939.7,370.3 939.7,366.1 947.4,365.4 955.9,364.6 957.8,363.2 959.9,361.9" fill="#7b7bff" fill-opacity="0.55" stroke="#4444ff" stroke-opacity="0.8" stroke-width="1.6" stroke-linejoin="round"/>
<polygon points="1111,353.3 1113.2,354 1113.5,355.8 1111.9,356.8 1112.2,359.8 1119.7,361 1131.7,361.7 1131.7,362.9 1119.7,363.7 1113.7,365.3 1113.7,367.8 1111,369.8 1110.4,369.8 1107.7,367.8 1107.7,365.3 1101.7,363.7 1089.7,362.9 1089.7,361.7 1101.7,361 1109.2,359.8 1109.5,356.8 1107.9,355.8 1108.2,354 1110.4,353.3" fill="#7b7bff" fill-opacity="0.55" stroke="#4444ff" stroke-opacity="0.8" stroke-width="1.6" stroke-linejoin="round"/>
<rect x="213.5" y="809.2" width="41.8" height="10" rx="4.5" fill="#7b7bff" fill-opacity="0.6" stroke="#4444ff" stroke-opacity="0.85" stroke-width="1.8"/>
<path d="M227 811 L233 807.5 L240 809.5 L243 814 L240 819 L234 822 L228 820.5 L226 816 Z" fill="#1515b0" fill-opacity="0.75"/>
<polygon points="860.7,434.9 862,437.9 861.6,439.9 861.4,444.9 870.4,445.9 881.4,446.6 881.4,447.7 867.4,448.2 865.4,450.9 861.6,453.9 861.8,462.9 862.6,465.9 860.7,467.9 860.1,467.9 858.2,465.9 859,462.9 859.2,453.9 855.4,450.9 853.4,448.2 839.4,447.7 839.4,446.6 850.4,445.9 859.4,444.9 859.2,439.9 858.8,437.9 860.1,434.9" fill="#7b7bff" fill-opacity="0.7" stroke="#4444ff" stroke-opacity="0.8" stroke-width="1.6" stroke-linejoin="round"/>
<polygon points="685.5,596 704,596.7 705.5,597.9 695,598.5 693,600 701,600.7 701,601.7 691,602.5 687,604.5 686.2,605.5 686.3,616.5 685.3,618 684.7,618 683.7,616.5 683.8,605.5 683,604.5 679,602.5 669,601.7 669,600.7 677,600 675,598.5 664.5,597.9 666,596.7 684.5,596" fill="#7b7bff" fill-opacity="0.7" stroke="#4444ff" stroke-opacity="0.8" stroke-width="1.6" stroke-linejoin="round"/>
<polygon points="1157,309.6 1165,307.2 1172,304.2 1176,300.6 1178.4,298.6 1181,301.2 1185,304 1192,304.4 1200,303.8 1215,302.8 1235,301.9 1260,301.3 1282,301.3 1282,303.3 1260,304 1235,305.2 1215,306.8 1200,308.6 1192,310 1185,312.3 1181,315 1178.4,319 1176,315.6 1172,312.6 1165,311 1157,310.2" fill="#33ee33" fill-opacity="0.75" stroke="#22e022" stroke-width="1.5" stroke-opacity="0.95" stroke-linejoin="round"/>
<polyline points="1170.6,313.9 1213.3,305.2 1261.8,302.3" fill="none" stroke="#c83030" stroke-width="2.2" stroke-linecap="round" stroke-dasharray="0 4.6"/>
<line x1="189" y1="278.7" x2="189" y2="823" stroke="#000" stroke-width="3.2" stroke-linecap="round"/>
<line x1="172.4" y1="282.6" x2="189" y2="282.6" stroke="#000" stroke-width="3.2" stroke-linecap="round"/>
<line x1="172.4" y1="346" x2="189" y2="346" stroke="#000" stroke-width="3.2" stroke-linecap="round"/>
<line x1="172.4" y1="409.5" x2="189" y2="409.5" stroke="#000" stroke-width="3.2" stroke-linecap="round"/>
<line x1="172.4" y1="472.9" x2="189" y2="472.9" stroke="#000" stroke-width="3.2" stroke-linecap="round"/>
<line x1="172.4" y1="536.3" x2="189" y2="536.3" stroke="#000" stroke-width="3.2" stroke-linecap="round"/>
<line x1="172.4" y1="599.8" x2="189" y2="599.8" stroke="#000" stroke-width="3.2" stroke-linecap="round"/>
<line x1="172.4" y1="663.2" x2="189" y2="663.2" stroke="#000" stroke-width="3.2" stroke-linecap="round"/>
<line x1="172.4" y1="726.6" x2="189" y2="726.6" stroke="#000" stroke-width="3.2" stroke-linecap="round"/>
<line x1="172.4" y1="790" x2="189" y2="790" stroke="#000" stroke-width="3.2" stroke-linecap="round"/>
<text x="155.5" y="292.1" font-size="26.5" text-anchor="end" font-family="'Liberation Sans', Arial, Helvetica, sans-serif">0</text>
<text x="155.5" y="419" font-size="26.5" text-anchor="end" font-family="'Liberation Sans', Arial, Helvetica, sans-serif">2000</text>
<text x="155.5" y="545.8" font-size="26.5" text-anchor="end" font-family="'Liberation Sans', Arial, Helvetica, sans-serif">4000</text>
<text x="155.5" y="672.7" font-size="26.5" text-anchor="end" font-family="'Liberation Sans', Arial, Helvetica, sans-serif">6000</text>
<text x="155.5" y="799.5" font-size="26.5" text-anchor="end" font-family="'Liberation Sans', Arial, Helvetica, sans-serif">8000</text>
<text x="63" y="550.5" font-size="32" text-anchor="middle" transform="rotate(-90 63 550.5)" font-family="'Liberation Sans', Arial, Helvetica, sans-serif">Age cal yr B.P.</text>
<path d="M187.8 823 V843.6 H1294.8" fill="none" stroke="#000" stroke-width="1.5"/>
<line x1="258.9" y1="843.5" x2="1253.6" y2="843.5" stroke="#000" stroke-width="3.2"/>
<line x1="1253.6" y1="843.5" x2="1253.6" y2="860.5" stroke="#000" stroke-width="3.2" stroke-linecap="round"/>
<line x1="1129.3" y1="843.5" x2="1129.3" y2="860.5" stroke="#000" stroke-width="3.2" stroke-linecap="round"/>
<line x1="1005.1" y1="843.5" x2="1005.1" y2="860.5" stroke="#000" stroke-width="3.2" stroke-linecap="round"/>
<line x1="880.8" y1="843.5" x2="880.8" y2="860.5" stroke="#000" stroke-width="3.2" stroke-linecap="round"/>
<line x1="756.5" y1="843.5" x2="756.5" y2="860.5" stroke="#000" stroke-width="3.2" stroke-linecap="round"/>
<line x1="632.3" y1="843.5" x2="632.3" y2="860.5" stroke="#000" stroke-width="3.2" stroke-linecap="round"/>
<line x1="508" y1="843.5" x2="508" y2="860.5" stroke="#000" stroke-width="3.2" stroke-linecap="round"/>
<line x1="383.8" y1="843.5" x2="383.8" y2="860.5" stroke="#000" stroke-width="3.2" stroke-linecap="round"/>
<line x1="259.5" y1="843.5" x2="259.5" y2="860.5" stroke="#000" stroke-width="3.2" stroke-linecap="round"/>
<text x="259.5" y="900.7" font-size="26.5" text-anchor="middle" font-family="'Liberation Sans', Arial, Helvetica, sans-serif">200</text>
<text x="508" y="900.7" font-size="26.5" text-anchor="middle" font-family="'Liberation Sans', Arial, Helvetica, sans-serif">150</text>
<text x="756.5" y="900.7" font-size="26.5" text-anchor="middle" font-family="'Liberation Sans', Arial, Helvetica, sans-serif">100</text>
<text x="1005.1" y="900.7" font-size="26.5" text-anchor="middle" font-family="'Liberation Sans', Arial, Helvetica, sans-serif">50</text>
<text x="1253.6" y="900.7" font-size="26.5" text-anchor="middle" font-family="'Liberation Sans', Arial, Helvetica, sans-serif">0</text>
<text x="756" y="934.5" font-size="31.5" text-anchor="middle" font-family="'Liberation Sans', Arial, Helvetica, sans-serif">Depth cm</text>
<line x1="1294.8" y1="465.3" x2="1294.8" y2="843.6" stroke="#000" stroke-width="3.2"/>
<line x1="1294.8" y1="841.9" x2="1311" y2="841.9" stroke="#000" stroke-width="3.2" stroke-linecap="round"/>
<line x1="1294.8" y1="815.1" x2="1311" y2="815.1" stroke="#000" stroke-width="3.2" stroke-linecap="round"/>
<line x1="1294.8" y1="788.2" x2="1311" y2="788.2" stroke="#000" stroke-width="3.2" stroke-linecap="round"/>
<line x1="1294.8" y1="761.4" x2="1311" y2="761.4" stroke="#000" stroke-width="3.2" stroke-linecap="round"/>
<line x1="1294.8" y1="734.5" x2="1311" y2="734.5" stroke="#000" stroke-width="3.2" stroke-linecap="round"/>
<line x1="1294.8" y1="707.7" x2="1311" y2="707.7" stroke="#000" stroke-width="3.2" stroke-linecap="round"/>
<line x1="1294.8" y1="680.9" x2="1311" y2="680.9" stroke="#000" stroke-width="3.2" stroke-linecap="round"/>
<line x1="1294.8" y1="654" x2="1311" y2="654" stroke="#000" stroke-width="3.2" stroke-linecap="round"/>
<line x1="1294.8" y1="627.2" x2="1311" y2="627.2" stroke="#000" stroke-width="3.2" stroke-linecap="round"/>
<line x1="1294.8" y1="600.3" x2="1311" y2="600.3" stroke="#000" stroke-width="3.2" stroke-linecap="round"/>
<line x1="1294.8" y1="573.5" x2="1311" y2="573.5" stroke="#000" stroke-width="3.2" stroke-linecap="round"/>
<line x1="1294.8" y1="546.7" x2="1311" y2="546.7" stroke="#000" stroke-width="3.2" stroke-linecap="round"/>
<line x1="1294.8" y1="519.8" x2="1311" y2="519.8" stroke="#000" stroke-width="3.2" stroke-linecap="round"/>
<line x1="1294.8" y1="493" x2="1311" y2="493" stroke="#000" stroke-width="3.2" stroke-linecap="round"/>
<line x1="1294.8" y1="466.1" x2="1311" y2="466.1" stroke="#000" stroke-width="3.2" stroke-linecap="round"/>
<text x="1327.8" y="849.9" font-size="22.3" font-family="'Liberation Sans', Arial, Helvetica, sans-serif">0</text>
<text x="1327.8" y="796.2" font-size="22.3" font-family="'Liberation Sans', Arial, Helvetica, sans-serif">2</text>
<text x="1327.8" y="742.5" font-size="22.3" font-family="'Liberation Sans', Arial, Helvetica, sans-serif">4</text>
<text x="1327.8" y="688.9" font-size="22.3" font-family="'Liberation Sans', Arial, Helvetica, sans-serif">6</text>
<text x="1327.8" y="635.2" font-size="22.3" font-family="'Liberation Sans', Arial, Helvetica, sans-serif">8</text>
<text x="1327.8" y="581.5" font-size="22.3" font-family="'Liberation Sans', Arial, Helvetica, sans-serif">10</text>
<text x="1327.8" y="527.8" font-size="22.3" font-family="'Liberation Sans', Arial, Helvetica, sans-serif">12</text>
<text x="1327.8" y="474.1" font-size="22.3" font-family="'Liberation Sans', Arial, Helvetica, sans-serif">14</text>
<text x="1376.5" y="655.5" font-size="31.6" text-anchor="middle" transform="rotate(90 1376.5 655.5)" font-family="'Liberation Sans', Arial, Helvetica, sans-serif">Sedimentation Rate (mm/yr)</text>
<polygon points="618.8,1100 682.9,1040.5 693,1075.6 702.8,1042.6 712.6,1054.2 732.6,1045.1 742.9,1039.5 752.7,1031.2 772.6,1068.4 782.2,1004.3 792,997.8 802.4,1040.5 812.7,1055.5 822.5,994.7 832.1,1039.5 842.4,1055.5 852.3,1067.6 872.2,1063.8 881.7,1073.6 891.6,1064.3 901.9,1073.6 921.8,1074.4 931.6,1090.4 941.5,1045.1 951.3,1003.1 961.5,987.3 971.7,904.7 992,942 1001.1,970.3 1011.3,1007.6 1021.4,964.7 1031.2,968.7 1041.1,1023.5 1050.9,990 1061.5,1003.1 1070.8,1029.1 1080.7,1027.6 1090.5,1034.8 1100.6,1045 1110.8,1060.8 1120.5,1078.5 1130.5,1061.9 1140.2,1080 1150.4,1086.8 1160.6,1088.6 1170.3,1090.9 1179.8,1077.8 1190,1036.6 1200.2,1034.8 1210.4,1042.7 1220.1,1025.7 1230,1046.6 1240,1001.3 1250,1023.5 1250,1100.5 618.8,1100.5" fill="#e6e6e6"/>
<polyline points="230.9,1100.7 617.8,1099.9 618.8,1100 682.9,1040.5 693,1075.6 702.8,1042.6 712.6,1054.2 732.6,1045.1 742.9,1039.5 752.7,1031.2 772.6,1068.4 782.2,1004.3 792,997.8 802.4,1040.5 812.7,1055.5 822.5,994.7 832.1,1039.5 842.4,1055.5 852.3,1067.6 872.2,1063.8 881.7,1073.6 891.6,1064.3 901.9,1073.6 921.8,1074.4 931.6,1090.4 941.5,1045.1 951.3,1003.1 961.5,987.3 971.7,904.7 992,942 1001.1,970.3 1011.3,1007.6 1021.4,964.7 1031.2,968.7 1041.1,1023.5 1050.9,990 1061.5,1003.1 1070.8,1029.1 1080.7,1027.6 1090.5,1034.8 1100.6,1045 1110.8,1060.8 1120.5,1078.5 1130.5,1061.9 1140.2,1080 1150.4,1086.8 1160.6,1088.6 1170.3,1090.9 1179.8,1077.8 1190,1036.6 1200.2,1034.8 1210.4,1042.7 1220.1,1025.7 1230,1046.6 1240,1001.3 1250,1023.5" fill="none" stroke="#222" stroke-width="1.3" stroke-linejoin="miter"/>
<line x1="181.6" y1="940.3" x2="181.6" y2="1101.6" stroke="#000" stroke-width="3"/>
<line x1="164.6" y1="1100.3" x2="181.6" y2="1100.3" stroke="#000" stroke-width="3" stroke-linecap="round"/>
<line x1="164.6" y1="1084.3" x2="181.6" y2="1084.3" stroke="#000" stroke-width="3" stroke-linecap="round"/>
<line x1="164.6" y1="1068.3" x2="181.6" y2="1068.3" stroke="#000" stroke-width="3" stroke-linecap="round"/>
<line x1="164.6" y1="1052.3" x2="181.6" y2="1052.3" stroke="#000" stroke-width="3" stroke-linecap="round"/>
<line x1="164.6" y1="1036.3" x2="181.6" y2="1036.3" stroke="#000" stroke-width="3" stroke-linecap="round"/>
<line x1="164.6" y1="1020.3" x2="181.6" y2="1020.3" stroke="#000" stroke-width="3" stroke-linecap="round"/>
<line x1="164.6" y1="1004.3" x2="181.6" y2="1004.3" stroke="#000" stroke-width="3" stroke-linecap="round"/>
<line x1="164.6" y1="988.3" x2="181.6" y2="988.3" stroke="#000" stroke-width="3" stroke-linecap="round"/>
<line x1="164.6" y1="972.3" x2="181.6" y2="972.3" stroke="#000" stroke-width="3" stroke-linecap="round"/>
<line x1="164.6" y1="956.3" x2="181.6" y2="956.3" stroke="#000" stroke-width="3" stroke-linecap="round"/>
<line x1="164.6" y1="940.3" x2="181.6" y2="940.3" stroke="#000" stroke-width="3" stroke-linecap="round"/>
<text x="148.5" y="1109.6" font-size="26.5" text-anchor="end" font-family="'Liberation Sans', Arial, Helvetica, sans-serif">0</text>
<text x="148.5" y="1045.6" font-size="26.5" text-anchor="end" font-family="'Liberation Sans', Arial, Helvetica, sans-serif">4000</text>
<text x="148.5" y="981.6" font-size="26.5" text-anchor="end" font-family="'Liberation Sans', Arial, Helvetica, sans-serif">8000</text>
<text x="28.6" y="1019.5" font-size="31.3" text-anchor="middle" transform="rotate(-90 28.6 1019.5)" font-family="'Liberation Sans', Arial, Helvetica, sans-serif">Pollen Accumulaion</text>
<text transform="translate(72.5 1021) rotate(-90)" font-size="31.3" text-anchor="middle" font-family="'Liberation Sans', Arial, Helvetica, sans-serif">(grains cm<tspan dy="-8.5">3</tspan><tspan dy="8.5">/yr)</tspan></text>
<rect x="241.1" y="1154.2" width="130.9" height="60" fill="#e9e9e9"/>
<rect x="372" y="1154.2" width="124" height="60" fill="#8c8c8c"/>
<rect x="496" y="1154.2" width="97.8" height="60" fill="#caaaa8"/>
<rect x="593.8" y="1154.2" width="96.2" height="60" fill="#775d5c"/>
<rect x="690" y="1154.2" width="19.8" height="60" fill="#7b2b29"/>
<rect x="709.8" y="1154.2" width="546.5" height="60" fill="#403838"/>
<rect x="241.1" y="1154.4" width="130.9" height="60" fill="none" stroke="#555" stroke-width="1.6"/>
<path d="M372 1154.2 H1256.3 V1214.2 H372" fill="none" stroke="#1a1a1a" stroke-width="2.6"/>
<line x1="372" y1="1154.2" x2="372" y2="1214.2" stroke="#111" stroke-width="3.2"/>
<line x1="496" y1="1154.2" x2="496" y2="1214.2" stroke="#111" stroke-width="3.2"/>
<line x1="593.8" y1="1154.2" x2="593.8" y2="1214.2" stroke="#111" stroke-width="3.2"/>
<line x1="690" y1="1154.2" x2="690" y2="1214.2" stroke="#111" stroke-width="3.2"/>
<line x1="709.8" y1="1154.2" x2="709.8" y2="1214.2" stroke="#111" stroke-width="3.2"/>
<rect x="263.3" y="1177" width="13" height="13" fill="#f2eeee" stroke="#151515" stroke-width="2"/>
<rect x="718.5" y="1177" width="13" height="13" fill="#f2eeee" stroke="#151515" stroke-width="2"/>
<rect x="773.2" y="1177" width="13" height="13" fill="#f2eeee" stroke="#151515" stroke-width="2"/>
<rect x="873.8" y="1177" width="13" height="13" fill="#f2eeee" stroke="#151515" stroke-width="2"/>
<rect x="973.7" y="1177" width="13" height="13" fill="#f2eeee" stroke="#151515" stroke-width="2"/>
<rect x="1119.2" y="1177" width="13" height="13" fill="#f2eeee" stroke="#151515" stroke-width="2"/>
<line x1="774.5" y1="1215.5" x2="774.5" y2="1230" stroke="#555" stroke-width="2"/>
<line x1="795.3" y1="1215.5" x2="795.3" y2="1230" stroke="#555" stroke-width="2"/>
<line x1="816.2" y1="1215.5" x2="816.2" y2="1230" stroke="#555" stroke-width="2"/>
<line x1="837" y1="1215.5" x2="837" y2="1230" stroke="#555" stroke-width="2"/>
<line x1="857.9" y1="1215.5" x2="857.9" y2="1230" stroke="#555" stroke-width="2"/>
<line x1="878.7" y1="1215.5" x2="878.7" y2="1230" stroke="#555" stroke-width="2"/>
<line x1="899.5" y1="1215.5" x2="899.5" y2="1230" stroke="#555" stroke-width="2"/>
<line x1="920.4" y1="1215.5" x2="920.4" y2="1230" stroke="#555" stroke-width="2"/>
<line x1="941.2" y1="1215.5" x2="941.2" y2="1230" stroke="#555" stroke-width="2"/>
<line x1="962.1" y1="1215.5" x2="962.1" y2="1230" stroke="#555" stroke-width="2"/>
<line x1="982.9" y1="1215.5" x2="982.9" y2="1230" stroke="#555" stroke-width="2"/>
<line x1="1003.7" y1="1215.5" x2="1003.7" y2="1230" stroke="#555" stroke-width="2"/>
<line x1="1024.6" y1="1215.5" x2="1024.6" y2="1230" stroke="#555" stroke-width="2"/>
<line x1="1045.4" y1="1215.5" x2="1045.4" y2="1230" stroke="#555" stroke-width="2"/>
<line x1="1066.3" y1="1215.5" x2="1066.3" y2="1230" stroke="#555" stroke-width="2"/>
<line x1="1087.1" y1="1215.5" x2="1087.1" y2="1230" stroke="#555" stroke-width="2"/>
<line x1="1111.5" y1="1215.5" x2="1111.5" y2="1230" stroke="#555" stroke-width="2"/>
<line x1="1121.2" y1="1215.5" x2="1121.2" y2="1230" stroke="#555" stroke-width="2"/>
<line x1="1130.8" y1="1215.5" x2="1130.8" y2="1230" stroke="#555" stroke-width="2"/>
<line x1="1140.5" y1="1215.5" x2="1140.5" y2="1230" stroke="#555" stroke-width="2"/>
<line x1="1150.1" y1="1215.5" x2="1150.1" y2="1230" stroke="#555" stroke-width="2"/>
<line x1="1159.8" y1="1215.5" x2="1159.8" y2="1230" stroke="#555" stroke-width="2"/>
<line x1="1169.4" y1="1215.5" x2="1169.4" y2="1230" stroke="#555" stroke-width="2"/>
<line x1="1179" y1="1215.5" x2="1179" y2="1230" stroke="#555" stroke-width="2"/>
<line x1="1188.7" y1="1215.5" x2="1188.7" y2="1230" stroke="#555" stroke-width="2"/>
<line x1="1198.3" y1="1215.5" x2="1198.3" y2="1230" stroke="#555" stroke-width="2"/>
<line x1="1208" y1="1215.5" x2="1208" y2="1230" stroke="#555" stroke-width="2"/>
<line x1="1217.7" y1="1215.5" x2="1217.7" y2="1230" stroke="#555" stroke-width="2"/>
<line x1="1227.3" y1="1215.5" x2="1227.3" y2="1230" stroke="#555" stroke-width="2"/>
<line x1="1237" y1="1215.5" x2="1237" y2="1230" stroke="#555" stroke-width="2"/>
<line x1="1246.6" y1="1215.5" x2="1246.6" y2="1230" stroke="#555" stroke-width="2"/>
<line x1="1256.2" y1="1215.5" x2="1256.2" y2="1230" stroke="#555" stroke-width="2"/>
<text x="1187.6" y="1248.6" font-size="18.5" fill="#333" letter-spacing="1.5" font-family="'DejaVu Sans', Verdana, sans-serif">Pb 210</text>
<line x1="255" y1="1260.3" x2="1249.7" y2="1260.3" stroke="#000" stroke-width="3"/>
<line x1="1249.7" y1="1260.3" x2="1249.7" y2="1276.6" stroke="#000" stroke-width="3" stroke-linecap="round"/>
<line x1="1125.4" y1="1260.3" x2="1125.4" y2="1276.6" stroke="#000" stroke-width="3" stroke-linecap="round"/>
<line x1="1001" y1="1260.3" x2="1001" y2="1276.6" stroke="#000" stroke-width="3" stroke-linecap="round"/>
<line x1="876.7" y1="1260.3" x2="876.7" y2="1276.6" stroke="#000" stroke-width="3" stroke-linecap="round"/>
<line x1="752.4" y1="1260.3" x2="752.4" y2="1276.6" stroke="#000" stroke-width="3" stroke-linecap="round"/>
<line x1="628" y1="1260.3" x2="628" y2="1276.6" stroke="#000" stroke-width="3" stroke-linecap="round"/>
<line x1="503.7" y1="1260.3" x2="503.7" y2="1276.6" stroke="#000" stroke-width="3" stroke-linecap="round"/>
<line x1="379.3" y1="1260.3" x2="379.3" y2="1276.6" stroke="#000" stroke-width="3" stroke-linecap="round"/>
<line x1="255" y1="1260.3" x2="255" y2="1276.6" stroke="#000" stroke-width="3" stroke-linecap="round"/>
<text x="255" y="1316.9" font-size="26.5" text-anchor="middle" font-family="'Liberation Sans', Arial, Helvetica, sans-serif">200</text>
<text x="503.7" y="1316.9" font-size="26.5" text-anchor="middle" font-family="'Liberation Sans', Arial, Helvetica, sans-serif">150</text>
<text x="752.4" y="1316.9" font-size="26.5" text-anchor="middle" font-family="'Liberation Sans', Arial, Helvetica, sans-serif">100</text>
<text x="1001" y="1316.9" font-size="26.5" text-anchor="middle" font-family="'Liberation Sans', Arial, Helvetica, sans-serif">50</text>
<text x="1249.7" y="1316.9" font-size="26.5" text-anchor="middle" font-family="'Liberation Sans', Arial, Helvetica, sans-serif">0</text>
<text x="752.5" y="1349.9" font-size="31.5" text-anchor="middle" font-family="'Liberation Sans', Arial, Helvetica, sans-serif">Depth cm</text>
<rect x="1293.8" y="922.1" width="30" height="25.2" fill="#ebebeb" stroke="#222" stroke-width="1.8"/>
<text x="1334" y="936.6" font-size="22.2" font-family="'DejaVu Sans', Verdana, sans-serif">White sandy clay</text>
<rect x="1293.8" y="977.7" width="30" height="25.2" fill="#9a9a9a" stroke="#222" stroke-width="1.8"/>
<text x="1334" y="994.1" font-size="22.2" font-family="'DejaVu Sans', Verdana, sans-serif">Grey sandy clay</text>
<rect x="1293.8" y="1032.5" width="30" height="25.2" fill="#403838" stroke="#222" stroke-width="1.8"/>
<text x="1334" y="1038.9" font-size="22.2" font-family="'DejaVu Sans', Verdana, sans-serif">Very dark brown</text>
<text x="1334" y="1067.4" font-size="22.2" font-family="'DejaVu Sans', Verdana, sans-serif">detrital peat</text>
<rect x="1293.8" y="1094.7" width="30" height="25.2" fill="#d4b6b6" stroke="#222" stroke-width="1.8"/>
<text x="1334" y="1108.5" font-size="22.2" font-family="'DejaVu Sans', Verdana, sans-serif">Very dusky red silt</text>
<rect x="1293.8" y="1147.3" width="30" height="25.2" fill="#8a7072" stroke="#222" stroke-width="1.8"/>
<text x="1334" y="1153.9" font-size="22.2" font-family="'DejaVu Sans', Verdana, sans-serif">Reddish grey med.</text>
<text x="1334" y="1182.7" font-size="22.2" font-family="'DejaVu Sans', Verdana, sans-serif">grained sand</text>
<rect x="1293.8" y="1207.4" width="30" height="25.2" fill="#822c2a" stroke="#222" stroke-width="1.8"/>
<text x="1334" y="1217.2" font-size="22.2" font-family="'DejaVu Sans', Verdana, sans-serif">Dark red brown</text>
<text x="1334" y="1244.8" font-size="22.2" font-family="'DejaVu Sans', Verdana, sans-serif">organics</text>
<rect x="1302" y="1266" width="16.4" height="16.2" fill="#fdfbfb" stroke="#777" stroke-width="1.4"/>
<text x="1334.5" y="1282" font-size="22.2" font-family="'DejaVu Sans', Verdana, sans-serif">AMS Date</text>
</svg></body></html>
